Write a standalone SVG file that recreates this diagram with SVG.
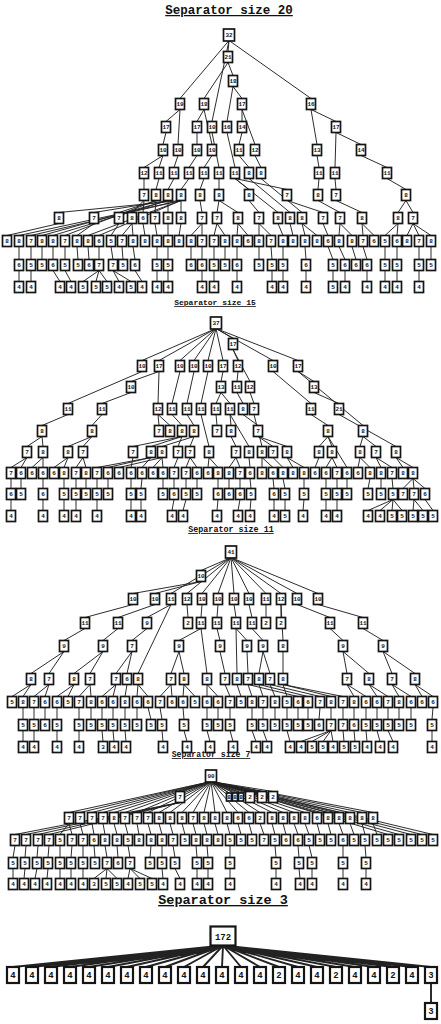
<svg xmlns="http://www.w3.org/2000/svg" width="441" height="1024" viewBox="0 0 441 1024">
<style>
.n rect{fill:#fff;stroke:#151515;stroke-width:1.7}
.n text{font-family:"Liberation Mono","DejaVu Sans Mono",monospace;font-size:6px;font-weight:bold;text-anchor:middle;fill:#151515}
.big rect{stroke-width:2.2}
.big text{font-size:9px;font-weight:bold}
.e path{fill:none;stroke:#222;stroke-width:0.95}
.e path.fat{stroke-width:1.9}
.ttl{font-family:"Liberation Mono","DejaVu Sans Mono",monospace;text-anchor:middle;fill:#111;text-decoration:underline;font-weight:bold}
</style>
<rect width="441" height="1024" fill="#fff"/>
<text class="ttl" x="229" y="14" font-size="12.5">Separator size 20</text>
<text class="ttl" x="215" y="305" font-size="8">Separator size 15</text>
<text class="ttl" x="231" y="532" font-size="8.4">Separator size 11</text>
<text class="ttl" x="211" y="757" font-size="8.2">Separator size 7</text>
<text class="ttl" x="223" y="904" font-size="13.5">Separator size 3</text>
<g id="connectors" class="e">
<path id="edges-20" d="M229 40.5L228 51.5M228 62.5L233 75.5M229 40.5L180 98.5M228 62.5L204 98.5M233 86.5L242 98.5M229 40.5L311 98.5M180 109.5L166 121.5M204 109.5L197 121.5M229 40.5L212 121.5M233 86.5L227 121.5M242 109.5L242 121.5M311 109.5L336 121.5M166 132.5L163 144.5M180 109.5L178 144.5M197 132.5L197 144.5M204 109.5L212 144.5M242 132.5L239 144.5M242 109.5L255 144.5M311 109.5L317 144.5M336 132.5L361 144.5M163 155.5L144 167.5M163 155.5L159 167.5M178 155.5L174 167.5M197 155.5L189 167.5M212 155.5L204 167.5M212 132.5L219 167.5M227 132.5L235 167.5M239 155.5L249 167.5M255 155.5L261 167.5M317 155.5L319 167.5M336 132.5L335 167.5M361 155.5L387 167.5M144 178.5L144 189.5M159 178.5L156 189.5M174 178.5L168 189.5M189 178.5L181 189.5M204 178.5L200 189.5M219 178.5L219 189.5M235 178.5L249 189.5M235 178.5L287 189.5M319 178.5L318 189.5M335 178.5L336 189.5M387 178.5L406 189.5M181 200.5L59 212.5M168 200.5L94 212.5M156 200.5L119 212.5M144 200.5L132 212.5M144 200.5L143 212.5M156 200.5L155 212.5M168 200.5L168 212.5M181 200.5L181 212.5M200 200.5L202 212.5M219 200.5L217 212.5M219 200.5L238 212.5M249 200.5L259 212.5M235 178.5L278 212.5M249 178.5L290 212.5M261 178.5L302 212.5M287 200.5L323 212.5M318 200.5L340 212.5M336 200.5L362 212.5M406 200.5L398 212.5M406 200.5L413 212.5M59 223.5L7 235.5M181 200.5L19 235.5M181 200.5L31 235.5M168 200.5L42 235.5M168 200.5L53 235.5M156 200.5L65 235.5M94 223.5L77 235.5M181 200.5L88 235.5M181 200.5L99 235.5M119 223.5L111 235.5M132 223.5L122 235.5M132 223.5L133 235.5M143 223.5L145 235.5M155 223.5L157 235.5M168 223.5L168 235.5M181 223.5L179 235.5M202 223.5L191 235.5M202 223.5L202 235.5M217 223.5L214 235.5M217 223.5L225 235.5M238 223.5L237 235.5M238 223.5L248 235.5M259 223.5L259 235.5M259 223.5L271 235.5M278 223.5L283 235.5M290 223.5L293 235.5M302 223.5L305 235.5M302 223.5L317 235.5M323 223.5L328 235.5M340 223.5L339 235.5M340 223.5L352 235.5M362 223.5L363 235.5M362 223.5L374 235.5M398 223.5L385 235.5M398 223.5L397 235.5M413 223.5L407 235.5M413 223.5L419 235.5M413 223.5L431 235.5M19 246.5V259.5M31 246.5V259.5M42 246.5V259.5M53 246.5V259.5M65 246.5V259.5M77 246.5L78 259.5M88 246.5L89 259.5M99 246.5V259.5M111 246.5L113 259.5M122 246.5L123 259.5M133 246.5L135 259.5M157 246.5V259.5M168 246.5V259.5M191 246.5V259.5M202 246.5V259.5M214 246.5V259.5M225 246.5V259.5M237 246.5V259.5M259 246.5V259.5M271 246.5L272 259.5M283 246.5V259.5M305 246.5L306 259.5M328 246.5L333 259.5M339 246.5L345 259.5M352 246.5L356 259.5M363 246.5L367 259.5M385 246.5V259.5M397 246.5V259.5M419 246.5V259.5M431 246.5V259.5M19 270.5V281.5M31 270.5V281.5M53 270.5L60 281.5M65 270.5L71 281.5M99 270.5L83 281.5M99 270.5L96 281.5M99 270.5L107 281.5M113 270.5L119 281.5M113 270.5L131 281.5M135 270.5L142 281.5M157 270.5V281.5M168 270.5V281.5M202 270.5V281.5M214 270.5V281.5M237 270.5V281.5M272 270.5V281.5M283 270.5V281.5M306 270.5V281.5M333 270.5V281.5M345 270.5V281.5M367 270.5V281.5M385 270.5V281.5M397 270.5V281.5M419 270.5V281.5"/>
<path id="edges-15" d="M216 328.5L233 338.5M216 328.5L142 360.5M216 328.5L159 360.5M216 328.5L180 360.5M216 328.5L194 360.5M216 328.5L208 360.5M216 328.5L223 360.5M216 328.5L273 360.5M216 328.5L298 360.5M233 349.5L238 360.5M159 371.5L131 381.5M223 371.5L221 381.5M238 371.5L237 381.5M233 349.5L250 381.5M298 371.5L314 381.5M142 371.5L68 403.5M131 392.5L102 403.5M159 371.5L158 403.5M180 371.5L172 403.5M194 371.5L187 403.5M208 371.5L201 403.5M221 392.5L216 403.5M221 392.5L230 403.5M237 392.5L243 403.5M250 392.5L254 403.5M273 371.5L311 403.5M314 392.5L339 403.5M68 414.5L42 425.5M102 414.5L92 425.5M158 414.5L159 425.5M158 414.5L170 425.5M172 414.5L182 425.5M187 414.5L194 425.5M216 414.5L217 425.5M230 414.5L231 425.5M243 414.5L258 425.5M311 414.5L328 425.5M298 371.5L363 425.5M42 436.5L27 446.5M42 436.5L43 446.5M92 436.5L68 446.5M92 436.5L83 446.5M182 436.5L133 446.5M182 436.5L151 446.5M194 436.5L162 446.5M182 436.5L178 446.5M194 436.5L190 446.5M201 414.5L209 446.5M231 436.5L236 446.5M230 414.5L249 446.5M254 414.5L262 446.5M258 436.5L273 446.5M258 436.5L287 446.5M328 436.5L319 446.5M328 436.5L332 446.5M363 436.5L360 446.5M363 436.5L376 446.5M339 414.5L396 446.5M27 457.5L11 467.5M27 457.5L21 467.5M43 457.5L32 467.5M43 457.5V467.5M68 457.5L54 467.5M68 457.5L64 467.5M83 457.5L76 467.5M83 457.5L86 467.5M151 457.5L97 467.5M151 457.5L108 467.5M162 457.5L119 467.5M133 457.5L131 467.5M151 457.5L142 467.5M162 457.5L153 467.5M162 457.5L163 467.5M178 457.5L174 467.5M190 457.5L186 467.5M190 457.5L197 467.5M209 457.5L208 467.5M209 457.5L218 467.5M236 457.5L229 467.5M236 457.5L240 467.5M249 457.5L250 467.5M262 457.5V467.5M262 457.5L273 467.5M273 457.5L283 467.5M287 457.5L293 467.5M287 457.5L304 467.5M319 457.5L315 467.5M332 457.5L326 467.5M332 457.5L337 467.5M328 436.5L347 467.5M360 457.5L358 467.5M360 457.5L370 467.5M376 457.5L381 467.5M376 457.5L392 467.5M396 457.5L403 467.5M396 457.5L413 467.5M11 478.5V488.5M21 478.5V488.5M43 478.5V488.5M64 478.5V488.5M76 478.5V488.5M86 478.5V488.5M97 478.5V488.5M108 478.5V488.5M131 478.5V488.5M142 478.5L141 488.5M163 478.5V488.5M174 478.5V488.5M186 478.5V488.5M197 478.5V488.5M218 478.5V488.5M229 478.5V488.5M240 478.5V488.5M250 478.5L251 488.5M273 478.5L274 488.5M283 478.5L285 488.5M304 478.5V488.5M326 478.5V488.5M337 478.5V488.5M347 478.5V488.5M370 478.5L368 488.5M381 478.5V488.5M392 478.5L393 488.5M413 478.5L403 488.5M413 478.5L414 488.5M413 478.5L425 488.5M11 499.5V510.5M43 499.5V510.5M64 499.5V510.5M76 499.5V510.5M97 499.5V510.5M131 499.5V510.5M141 499.5V510.5M174 499.5L172 510.5M186 499.5L183 510.5M218 499.5L217 510.5M240 499.5L238 510.5M251 499.5L250 510.5M274 499.5V510.5M285 499.5V510.5M304 499.5L303 510.5M326 499.5V510.5M337 499.5V510.5M393 499.5L368 510.5M393 499.5L380 510.5M393 499.5L392 510.5M393 499.5L402 510.5M414 499.5L413 510.5M414 499.5L423 510.5M425 499.5L433 510.5"/>
<path id="edges-11" d="M231 557.5L201 570.5M201 581.5L133 593.5M201 581.5L155 593.5M231 557.5L171 593.5M231 557.5L187 593.5M231 557.5L202 593.5M231 557.5L218 593.5M231 557.5L234 593.5M231 557.5L249 593.5M231 557.5L266 593.5M231 557.5L281 593.5M231 557.5L297 593.5M231 557.5L318 593.5M133 604.5L85 617.5M155 604.5L118 617.5M171 604.5L147 617.5M187 604.5L188 617.5M202 604.5L201 617.5M218 604.5L217 617.5M234 604.5L236 617.5M249 604.5L252 617.5M266 604.5V617.5M281 604.5V617.5M297 604.5L330 617.5M318 604.5L363 617.5M85 628.5L64 640.5M118 628.5L103 640.5M147 628.5L132 640.5M201 628.5L179 640.5M217 628.5L220 640.5M236 628.5L247 640.5M252 628.5L263 640.5M281 604.5L283 640.5M330 628.5L343 640.5M363 628.5L383 640.5M64 651.5L31 673.5M64 651.5L49 673.5M103 651.5L74 673.5M103 651.5L90 673.5M132 651.5L116 673.5M132 651.5L127 673.5M171 604.5L138 673.5M179 651.5L171 673.5M179 651.5L184 673.5M201 628.5L207 673.5M220 651.5L225 673.5M236 628.5L237 673.5M247 651.5L248 673.5M263 651.5L259 673.5M263 651.5L270 673.5M283 651.5V673.5M343 651.5L347 673.5M343 651.5L369 673.5M383 651.5L392 673.5M383 651.5L415 673.5M31 684.5L12 696.5M31 684.5L23 696.5M49 684.5L34 696.5M49 684.5L45 696.5M74 684.5L57 696.5M74 684.5L68 696.5M90 684.5L79 696.5M90 684.5L91 696.5M116 684.5L102 696.5M116 684.5L113 696.5M127 684.5L125 696.5M138 684.5L137 696.5M138 684.5L148 696.5M171 684.5L160 696.5M171 684.5L172 696.5M184 684.5L183 696.5M184 684.5L195 696.5M207 684.5V696.5M207 684.5L218 696.5M225 684.5L230 696.5M237 684.5L241 696.5M248 684.5L252 696.5M259 684.5L263 696.5M270 684.5L275 696.5M283 684.5L287 696.5M248 684.5L298 696.5M259 684.5L308 696.5M270 684.5L320 696.5M283 684.5L331 696.5M283 684.5L343 696.5M347 684.5L354 696.5M347 684.5L366 696.5M369 684.5L377 696.5M369 684.5L388 696.5M392 684.5L399 696.5M392 684.5L411 696.5M415 684.5L422 696.5M415 684.5L433 696.5M23 707.5V719.5M34 707.5V719.5M45 707.5V719.5M57 707.5V719.5M79 707.5V719.5M91 707.5V719.5M102 707.5V719.5M113 707.5V719.5M125 707.5V719.5M137 707.5V719.5M148 707.5L151 719.5M160 707.5L162 719.5M183 707.5L184 719.5M207 707.5V719.5M218 707.5V719.5M230 707.5V719.5M252 707.5V719.5M263 707.5V719.5M275 707.5V719.5M287 707.5V719.5M298 707.5V719.5M308 707.5V719.5M320 707.5L319 719.5M331 707.5V719.5M343 707.5V719.5M354 707.5V719.5M366 707.5V719.5M377 707.5V719.5M388 707.5V719.5M399 707.5V719.5M411 707.5V719.5M433 707.5L432 719.5M23 730.5V741.5M34 730.5V741.5M57 730.5V741.5M79 730.5V741.5M102 730.5L103 741.5M113 730.5L114 741.5M125 730.5L126 741.5M162 730.5L163 741.5M184 730.5L187 741.5M207 730.5L210 741.5M230 730.5L233 741.5M252 730.5L256 741.5M263 730.5L267 741.5M287 730.5L290 741.5M331 730.5L301 741.5M331 730.5L312 741.5M331 730.5L323 741.5M331 730.5L333 741.5M343 730.5L344 741.5M354 730.5L355 741.5M366 730.5L367 741.5M377 730.5L380 741.5M388 730.5L393 741.5M432 730.5V741.5"/>
<path id="edges-7" d="M211 781.5L180 791.5M211 781.5L229 793M211 781.5L235 793M211 781.5L241 793M211 781.5L250 791.5M211 781.5L262 791.5M211 781.5L273 791.5M211 781.5L69 812.5M211 781.5L80 812.5M211 781.5L92 812.5M211 781.5L103 812.5M211 781.5L114 812.5M211 781.5L125 812.5M211 781.5L137 812.5M211 781.5L148 812.5M211 781.5L159 812.5M211 781.5L170 812.5M211 781.5L182 812.5M211 781.5L193 812.5M211 781.5L204 812.5M211 781.5L215 812.5M211 781.5L227 812.5M211 781.5L238 812.5M211 781.5L249 812.5M211 781.5L260 812.5M211 781.5L272 812.5M211 781.5L283 812.5M211 781.5L294 812.5M211 781.5L305 812.5M211 781.5L317 812.5M211 781.5L328 812.5M211 781.5L339 812.5M211 781.5L350 812.5M211 781.5L362 812.5M211 781.5L373 812.5M180 802.5L15 834.5M180 802.5L26 834.5M180 802.5L38 834.5M180 802.5L49 834.5M69 823.5L60 834.5M69 823.5L72 834.5M80 823.5L83 834.5M92 823.5L94 834.5M103 823.5L105 834.5M114 823.5L117 834.5M125 823.5L128 834.5M137 823.5L139 834.5M148 823.5L151 834.5M159 823.5L162 834.5M170 823.5L173 834.5M182 823.5L185 834.5M193 823.5L196 834.5M204 823.5L207 834.5M215 823.5L218 834.5M227 823.5L230 834.5M238 823.5L241 834.5M249 823.5L252 834.5M260 823.5L264 834.5M272 823.5L275 834.5M283 823.5L286 834.5M294 823.5L298 834.5M305 823.5L309 834.5M317 823.5L320 834.5M328 823.5L331 834.5M339 823.5L343 834.5M350 823.5L354 834.5M362 823.5L365 834.5M373 823.5L377 834.5M211 781.5L388 834.5M211 781.5L399 834.5M211 781.5L411 834.5M211 781.5L422 834.5M211 781.5L433 834.5M15 845.5L13 857.5M26 845.5L25 857.5M38 845.5L37 857.5M49 845.5L48 857.5M60 845.5V857.5M72 845.5L71 857.5M83 845.5V857.5M94 845.5L95 857.5M105 845.5L107 857.5M117 845.5L118 857.5M128 845.5L130 857.5M151 845.5L150 857.5M162 845.5V857.5M173 845.5L175 857.5M196 845.5L197 857.5M207 845.5L208 857.5M230 845.5V857.5M275 845.5L276 857.5M298 845.5L299 857.5M309 845.5L312 857.5M343 845.5V857.5M365 845.5L366 857.5M13 868.5V878.5M25 868.5L24 878.5M37 868.5L35 878.5M48 868.5L47 878.5M60 868.5V878.5M71 868.5V878.5M83 868.5V878.5M107 868.5L94 878.5M107 868.5L106 878.5M107 868.5L117 878.5M130 868.5L128 878.5M130 868.5L140 878.5M130 868.5L152 878.5M162 868.5L163 878.5M175 868.5L180 878.5M197 868.5V878.5M208 868.5V878.5M230 868.5V878.5M276 868.5V878.5M299 868.5L300 878.5M312 868.5V878.5M343 868.5V878.5M366 868.5V878.5"/>
<path id="edges-3" class="fat" d="M223 945.5L13 967M223 945.5L32 967M223 945.5L51 967M223 945.5L70 967M223 945.5L89 967M223 945.5L108 967M223 945.5L127 967M223 945.5L146 967M223 945.5L165 967M223 945.5L184 967M223 945.5L203 967M223 945.5L222 967M223 945.5L241 967M223 945.5L260 967M223 945.5L279 967M223 945.5L298 967M223 945.5L317 967M223 945.5L336 967M223 945.5L355 967M223 945.5L374 967M223 945.5L393 967M223 945.5L412 967M223 945.5L431 967M431 983V1003"/>
</g>
<g id="tree-20" class="n">
<g id="a1" transform="translate(229 35)"><rect x="-5.5" y="-6" width="11" height="12"/><text y="2.1">32</text></g>
<g id="a2" transform="translate(228 57)"><rect x="-4.5" y="-5.5" width="9" height="11"/><text y="2.1">21</text></g>
<g id="a3" transform="translate(233 81)"><rect x="-4.5" y="-5.5" width="9" height="11"/><text y="2.1">18</text></g>
<g id="a4" transform="translate(180 104)"><rect x="-4.5" y="-5.5" width="9" height="11"/><text y="2.1">19</text></g>
<g id="a5" transform="translate(204 104)"><rect x="-4.5" y="-5.5" width="9" height="11"/><text y="2.1">18</text></g>
<g id="a6" transform="translate(242 104)"><rect x="-4.5" y="-5.5" width="9" height="11"/><text y="2.1">17</text></g>
<g id="a7" transform="translate(311 104)"><rect x="-4.5" y="-5.5" width="9" height="11"/><text y="2.1">16</text></g>
<g id="a8" transform="translate(166 127)"><rect x="-4.5" y="-5.5" width="9" height="11"/><text y="2.1">17</text></g>
<g id="a9" transform="translate(197 127)"><rect x="-4.5" y="-5.5" width="9" height="11"/><text y="2.1">17</text></g>
<g id="a10" transform="translate(212 127)"><rect x="-4.5" y="-5.5" width="9" height="11"/><text y="2.1">10</text></g>
<g id="a11" transform="translate(227 127)"><rect x="-4.5" y="-5.5" width="9" height="11"/><text y="2.1">16</text></g>
<g id="a12" transform="translate(242 127)"><rect x="-4.5" y="-5.5" width="9" height="11"/><text y="2.1">14</text></g>
<g id="a13" transform="translate(336 127)"><rect x="-4.5" y="-5.5" width="9" height="11"/><text y="2.1">17</text></g>
<g id="a14" transform="translate(163 150)"><rect x="-4.5" y="-5.5" width="9" height="11"/><text y="2.1">10</text></g>
<g id="a15" transform="translate(178 150)"><rect x="-4.5" y="-5.5" width="9" height="11"/><text y="2.1">10</text></g>
<g id="a16" transform="translate(197 150)"><rect x="-4.5" y="-5.5" width="9" height="11"/><text y="2.1">10</text></g>
<g id="a17" transform="translate(212 150)"><rect x="-4.5" y="-5.5" width="9" height="11"/><text y="2.1">10</text></g>
<g id="a18" transform="translate(239 150)"><rect x="-4.5" y="-5.5" width="9" height="11"/><text y="2.1">11</text></g>
<g id="a19" transform="translate(255 150)"><rect x="-4.5" y="-5.5" width="9" height="11"/><text y="2.1">12</text></g>
<g id="a20" transform="translate(317 150)"><rect x="-4.5" y="-5.5" width="9" height="11"/><text y="2.1">13</text></g>
<g id="a21" transform="translate(361 150)"><rect x="-4.5" y="-5.5" width="9" height="11"/><text y="2.1">14</text></g>
<g id="a22" transform="translate(144 173)"><rect x="-4.5" y="-5.5" width="9" height="11"/><text y="2.1">12</text></g>
<g id="a23" transform="translate(159 173)"><rect x="-4.5" y="-5.5" width="9" height="11"/><text y="2.1">11</text></g>
<g id="a24" transform="translate(174 173)"><rect x="-4.5" y="-5.5" width="9" height="11"/><text y="2.1">11</text></g>
<g id="a25" transform="translate(189 173)"><rect x="-4.5" y="-5.5" width="9" height="11"/><text y="2.1">11</text></g>
<g id="a26" transform="translate(204 173)"><rect x="-4.5" y="-5.5" width="9" height="11"/><text y="2.1">11</text></g>
<g id="a27" transform="translate(219 173)"><rect x="-4.5" y="-5.5" width="9" height="11"/><text y="2.1">11</text></g>
<g id="a28" transform="translate(235 173)"><rect x="-4.5" y="-5.5" width="9" height="11"/><text y="2.1">11</text></g>
<g id="a29" transform="translate(249 173)"><rect x="-4.5" y="-5.5" width="9" height="11"/><text y="2.1">8</text></g>
<g id="a30" transform="translate(261 173)"><rect x="-4.5" y="-5.5" width="9" height="11"/><text y="2.1">8</text></g>
<g id="a31" transform="translate(319 173)"><rect x="-4.5" y="-5.5" width="9" height="11"/><text y="2.1">11</text></g>
<g id="a32" transform="translate(335 173)"><rect x="-4.5" y="-5.5" width="9" height="11"/><text y="2.1">11</text></g>
<g id="a33" transform="translate(387 173)"><rect x="-4.5" y="-5.5" width="9" height="11"/><text y="2.1">11</text></g>
<g id="a34" transform="translate(144 195)"><rect x="-4.5" y="-5.5" width="9" height="11"/><text y="2.1">7</text></g>
<g id="a35" transform="translate(156 195)"><rect x="-4.5" y="-5.5" width="9" height="11"/><text y="2.1">8</text></g>
<g id="a36" transform="translate(168 195)"><rect x="-4.5" y="-5.5" width="9" height="11"/><text y="2.1">8</text></g>
<g id="a37" transform="translate(181 195)"><rect x="-4.5" y="-5.5" width="9" height="11"/><text y="2.1">8</text></g>
<g id="a38" transform="translate(200 195)"><rect x="-4.5" y="-5.5" width="9" height="11"/><text y="2.1">8</text></g>
<g id="a39" transform="translate(219 195)"><rect x="-4.5" y="-5.5" width="9" height="11"/><text y="2.1">8</text></g>
<g id="a40" transform="translate(249 195)"><rect x="-4.5" y="-5.5" width="9" height="11"/><text y="2.1">8</text></g>
<g id="a41" transform="translate(287 195)"><rect x="-4.5" y="-5.5" width="9" height="11"/><text y="2.1">7</text></g>
<g id="a42" transform="translate(318 195)"><rect x="-4.5" y="-5.5" width="9" height="11"/><text y="2.1">8</text></g>
<g id="a43" transform="translate(336 195)"><rect x="-4.5" y="-5.5" width="9" height="11"/><text y="2.1">7</text></g>
<g id="a44" transform="translate(406 195)"><rect x="-4.5" y="-5.5" width="9" height="11"/><text y="2.1">8</text></g>
<g id="a45" transform="translate(59 218)"><rect x="-4.5" y="-5.5" width="9" height="11"/><text y="2.1">8</text></g>
<g id="a46" transform="translate(94 218)"><rect x="-4.5" y="-5.5" width="9" height="11"/><text y="2.1">7</text></g>
<g id="a47" transform="translate(119 218)"><rect x="-4.5" y="-5.5" width="9" height="11"/><text y="2.1">7</text></g>
<g id="a48" transform="translate(132 218)"><rect x="-4.5" y="-5.5" width="9" height="11"/><text y="2.1">8</text></g>
<g id="a49" transform="translate(143 218)"><rect x="-4.5" y="-5.5" width="9" height="11"/><text y="2.1">6</text></g>
<g id="a50" transform="translate(155 218)"><rect x="-4.5" y="-5.5" width="9" height="11"/><text y="2.1">7</text></g>
<g id="a51" transform="translate(168 218)"><rect x="-4.5" y="-5.5" width="9" height="11"/><text y="2.1">8</text></g>
<g id="a52" transform="translate(181 218)"><rect x="-4.5" y="-5.5" width="9" height="11"/><text y="2.1">8</text></g>
<g id="a53" transform="translate(202 218)"><rect x="-4.5" y="-5.5" width="9" height="11"/><text y="2.1">7</text></g>
<g id="a54" transform="translate(217 218)"><rect x="-4.5" y="-5.5" width="9" height="11"/><text y="2.1">7</text></g>
<g id="a55" transform="translate(238 218)"><rect x="-4.5" y="-5.5" width="9" height="11"/><text y="2.1">8</text></g>
<g id="a56" transform="translate(259 218)"><rect x="-4.5" y="-5.5" width="9" height="11"/><text y="2.1">7</text></g>
<g id="a57" transform="translate(278 218)"><rect x="-4.5" y="-5.5" width="9" height="11"/><text y="2.1">8</text></g>
<g id="a58" transform="translate(290 218)"><rect x="-4.5" y="-5.5" width="9" height="11"/><text y="2.1">8</text></g>
<g id="a59" transform="translate(302 218)"><rect x="-4.5" y="-5.5" width="9" height="11"/><text y="2.1">8</text></g>
<g id="a60" transform="translate(323 218)"><rect x="-4.5" y="-5.5" width="9" height="11"/><text y="2.1">7</text></g>
<g id="a61" transform="translate(340 218)"><rect x="-4.5" y="-5.5" width="9" height="11"/><text y="2.1">7</text></g>
<g id="a62" transform="translate(362 218)"><rect x="-4.5" y="-5.5" width="9" height="11"/><text y="2.1">8</text></g>
<g id="a63" transform="translate(398 218)"><rect x="-4.5" y="-5.5" width="9" height="11"/><text y="2.1">8</text></g>
<g id="a64" transform="translate(413 218)"><rect x="-4.5" y="-5.5" width="9" height="11"/><text y="2.1">7</text></g>
<g id="a65" transform="translate(7 241)"><rect x="-4.5" y="-5.5" width="9" height="11"/><text y="2.1">8</text></g>
<g id="a66" transform="translate(19 241)"><rect x="-4.5" y="-5.5" width="9" height="11"/><text y="2.1">8</text></g>
<g id="a67" transform="translate(31 241)"><rect x="-4.5" y="-5.5" width="9" height="11"/><text y="2.1">7</text></g>
<g id="a68" transform="translate(42 241)"><rect x="-4.5" y="-5.5" width="9" height="11"/><text y="2.1">8</text></g>
<g id="a69" transform="translate(53 241)"><rect x="-4.5" y="-5.5" width="9" height="11"/><text y="2.1">8</text></g>
<g id="a70" transform="translate(65 241)"><rect x="-4.5" y="-5.5" width="9" height="11"/><text y="2.1">7</text></g>
<g id="a71" transform="translate(77 241)"><rect x="-4.5" y="-5.5" width="9" height="11"/><text y="2.1">8</text></g>
<g id="a72" transform="translate(88 241)"><rect x="-4.5" y="-5.5" width="9" height="11"/><text y="2.1">8</text></g>
<g id="a73" transform="translate(99 241)"><rect x="-4.5" y="-5.5" width="9" height="11"/><text y="2.1">6</text></g>
<g id="a74" transform="translate(111 241)"><rect x="-4.5" y="-5.5" width="9" height="11"/><text y="2.1">5</text></g>
<g id="a75" transform="translate(122 241)"><rect x="-4.5" y="-5.5" width="9" height="11"/><text y="2.1">7</text></g>
<g id="a76" transform="translate(133 241)"><rect x="-4.5" y="-5.5" width="9" height="11"/><text y="2.1">8</text></g>
<g id="a77" transform="translate(145 241)"><rect x="-4.5" y="-5.5" width="9" height="11"/><text y="2.1">8</text></g>
<g id="a78" transform="translate(157 241)"><rect x="-4.5" y="-5.5" width="9" height="11"/><text y="2.1">8</text></g>
<g id="a79" transform="translate(168 241)"><rect x="-4.5" y="-5.5" width="9" height="11"/><text y="2.1">8</text></g>
<g id="a80" transform="translate(179 241)"><rect x="-4.5" y="-5.5" width="9" height="11"/><text y="2.1">8</text></g>
<g id="a81" transform="translate(191 241)"><rect x="-4.5" y="-5.5" width="9" height="11"/><text y="2.1">8</text></g>
<g id="a82" transform="translate(202 241)"><rect x="-4.5" y="-5.5" width="9" height="11"/><text y="2.1">7</text></g>
<g id="a83" transform="translate(214 241)"><rect x="-4.5" y="-5.5" width="9" height="11"/><text y="2.1">7</text></g>
<g id="a84" transform="translate(225 241)"><rect x="-4.5" y="-5.5" width="9" height="11"/><text y="2.1">8</text></g>
<g id="a85" transform="translate(237 241)"><rect x="-4.5" y="-5.5" width="9" height="11"/><text y="2.1">8</text></g>
<g id="a86" transform="translate(248 241)"><rect x="-4.5" y="-5.5" width="9" height="11"/><text y="2.1">6</text></g>
<g id="a87" transform="translate(259 241)"><rect x="-4.5" y="-5.5" width="9" height="11"/><text y="2.1">8</text></g>
<g id="a88" transform="translate(271 241)"><rect x="-4.5" y="-5.5" width="9" height="11"/><text y="2.1">7</text></g>
<g id="a89" transform="translate(283 241)"><rect x="-4.5" y="-5.5" width="9" height="11"/><text y="2.1">8</text></g>
<g id="a90" transform="translate(293 241)"><rect x="-4.5" y="-5.5" width="9" height="11"/><text y="2.1">8</text></g>
<g id="a91" transform="translate(305 241)"><rect x="-4.5" y="-5.5" width="9" height="11"/><text y="2.1">8</text></g>
<g id="a92" transform="translate(317 241)"><rect x="-4.5" y="-5.5" width="9" height="11"/><text y="2.1">8</text></g>
<g id="a93" transform="translate(328 241)"><rect x="-4.5" y="-5.5" width="9" height="11"/><text y="2.1">6</text></g>
<g id="a94" transform="translate(339 241)"><rect x="-4.5" y="-5.5" width="9" height="11"/><text y="2.1">8</text></g>
<g id="a95" transform="translate(352 241)"><rect x="-4.5" y="-5.5" width="9" height="11"/><text y="2.1">8</text></g>
<g id="a96" transform="translate(363 241)"><rect x="-4.5" y="-5.5" width="9" height="11"/><text y="2.1">7</text></g>
<g id="a97" transform="translate(374 241)"><rect x="-4.5" y="-5.5" width="9" height="11"/><text y="2.1">6</text></g>
<g id="a98" transform="translate(385 241)"><rect x="-4.5" y="-5.5" width="9" height="11"/><text y="2.1">5</text></g>
<g id="a99" transform="translate(397 241)"><rect x="-4.5" y="-5.5" width="9" height="11"/><text y="2.1">6</text></g>
<g id="a100" transform="translate(407 241)"><rect x="-4.5" y="-5.5" width="9" height="11"/><text y="2.1">8</text></g>
<g id="a101" transform="translate(419 241)"><rect x="-4.5" y="-5.5" width="9" height="11"/><text y="2.1">7</text></g>
<g id="a102" transform="translate(431 241)"><rect x="-4.5" y="-5.5" width="9" height="11"/><text y="2.1">8</text></g>
<g id="a103" transform="translate(19 265)"><rect x="-4.5" y="-5.5" width="9" height="11"/><text y="2.1">6</text></g>
<g id="a104" transform="translate(31 265)"><rect x="-4.5" y="-5.5" width="9" height="11"/><text y="2.1">5</text></g>
<g id="a105" transform="translate(42 265)"><rect x="-4.5" y="-5.5" width="9" height="11"/><text y="2.1">5</text></g>
<g id="a106" transform="translate(53 265)"><rect x="-4.5" y="-5.5" width="9" height="11"/><text y="2.1">6</text></g>
<g id="a107" transform="translate(65 265)"><rect x="-4.5" y="-5.5" width="9" height="11"/><text y="2.1">5</text></g>
<g id="a108" transform="translate(78 265)"><rect x="-4.5" y="-5.5" width="9" height="11"/><text y="2.1">5</text></g>
<g id="a109" transform="translate(89 265)"><rect x="-4.5" y="-5.5" width="9" height="11"/><text y="2.1">6</text></g>
<g id="a110" transform="translate(99 265)"><rect x="-4.5" y="-5.5" width="9" height="11"/><text y="2.1">7</text></g>
<g id="a111" transform="translate(113 265)"><rect x="-4.5" y="-5.5" width="9" height="11"/><text y="2.1">7</text></g>
<g id="a112" transform="translate(123 265)"><rect x="-4.5" y="-5.5" width="9" height="11"/><text y="2.1">5</text></g>
<g id="a113" transform="translate(135 265)"><rect x="-4.5" y="-5.5" width="9" height="11"/><text y="2.1">6</text></g>
<g id="a114" transform="translate(157 265)"><rect x="-4.5" y="-5.5" width="9" height="11"/><text y="2.1">5</text></g>
<g id="a115" transform="translate(168 265)"><rect x="-4.5" y="-5.5" width="9" height="11"/><text y="2.1">5</text></g>
<g id="a116" transform="translate(191 265)"><rect x="-4.5" y="-5.5" width="9" height="11"/><text y="2.1">6</text></g>
<g id="a117" transform="translate(202 265)"><rect x="-4.5" y="-5.5" width="9" height="11"/><text y="2.1">6</text></g>
<g id="a118" transform="translate(214 265)"><rect x="-4.5" y="-5.5" width="9" height="11"/><text y="2.1">5</text></g>
<g id="a119" transform="translate(225 265)"><rect x="-4.5" y="-5.5" width="9" height="11"/><text y="2.1">5</text></g>
<g id="a120" transform="translate(237 265)"><rect x="-4.5" y="-5.5" width="9" height="11"/><text y="2.1">6</text></g>
<g id="a121" transform="translate(259 265)"><rect x="-4.5" y="-5.5" width="9" height="11"/><text y="2.1">5</text></g>
<g id="a122" transform="translate(272 265)"><rect x="-4.5" y="-5.5" width="9" height="11"/><text y="2.1">5</text></g>
<g id="a123" transform="translate(283 265)"><rect x="-4.5" y="-5.5" width="9" height="11"/><text y="2.1">5</text></g>
<g id="a124" transform="translate(306 265)"><rect x="-4.5" y="-5.5" width="9" height="11"/><text y="2.1">6</text></g>
<g id="a125" transform="translate(333 265)"><rect x="-4.5" y="-5.5" width="9" height="11"/><text y="2.1">5</text></g>
<g id="a126" transform="translate(345 265)"><rect x="-4.5" y="-5.5" width="9" height="11"/><text y="2.1">6</text></g>
<g id="a127" transform="translate(356 265)"><rect x="-4.5" y="-5.5" width="9" height="11"/><text y="2.1">6</text></g>
<g id="a128" transform="translate(367 265)"><rect x="-4.5" y="-5.5" width="9" height="11"/><text y="2.1">6</text></g>
<g id="a129" transform="translate(385 265)"><rect x="-4.5" y="-5.5" width="9" height="11"/><text y="2.1">5</text></g>
<g id="a130" transform="translate(397 265)"><rect x="-4.5" y="-5.5" width="9" height="11"/><text y="2.1">5</text></g>
<g id="a131" transform="translate(419 265)"><rect x="-4.5" y="-5.5" width="9" height="11"/><text y="2.1">5</text></g>
<g id="a132" transform="translate(431 265)"><rect x="-4.5" y="-5.5" width="9" height="11"/><text y="2.1">5</text></g>
<g id="a133" transform="translate(19 287)"><rect x="-4.5" y="-5.5" width="9" height="11"/><text y="2.1">4</text></g>
<g id="a134" transform="translate(31 287)"><rect x="-4.5" y="-5.5" width="9" height="11"/><text y="2.1">4</text></g>
<g id="a135" transform="translate(60 287)"><rect x="-4.5" y="-5.5" width="9" height="11"/><text y="2.1">4</text></g>
<g id="a136" transform="translate(71 287)"><rect x="-4.5" y="-5.5" width="9" height="11"/><text y="2.1">4</text></g>
<g id="a137" transform="translate(83 287)"><rect x="-4.5" y="-5.5" width="9" height="11"/><text y="2.1">5</text></g>
<g id="a138" transform="translate(96 287)"><rect x="-4.5" y="-5.5" width="9" height="11"/><text y="2.1">5</text></g>
<g id="a139" transform="translate(107 287)"><rect x="-4.5" y="-5.5" width="9" height="11"/><text y="2.1">5</text></g>
<g id="a140" transform="translate(119 287)"><rect x="-4.5" y="-5.5" width="9" height="11"/><text y="2.1">4</text></g>
<g id="a141" transform="translate(131 287)"><rect x="-4.5" y="-5.5" width="9" height="11"/><text y="2.1">5</text></g>
<g id="a142" transform="translate(142 287)"><rect x="-4.5" y="-5.5" width="9" height="11"/><text y="2.1">4</text></g>
<g id="a143" transform="translate(157 287)"><rect x="-4.5" y="-5.5" width="9" height="11"/><text y="2.1">4</text></g>
<g id="a144" transform="translate(168 287)"><rect x="-4.5" y="-5.5" width="9" height="11"/><text y="2.1">4</text></g>
<g id="a145" transform="translate(202 287)"><rect x="-4.5" y="-5.5" width="9" height="11"/><text y="2.1">4</text></g>
<g id="a146" transform="translate(214 287)"><rect x="-4.5" y="-5.5" width="9" height="11"/><text y="2.1">4</text></g>
<g id="a147" transform="translate(237 287)"><rect x="-4.5" y="-5.5" width="9" height="11"/><text y="2.1">4</text></g>
<g id="a148" transform="translate(272 287)"><rect x="-4.5" y="-5.5" width="9" height="11"/><text y="2.1">4</text></g>
<g id="a149" transform="translate(283 287)"><rect x="-4.5" y="-5.5" width="9" height="11"/><text y="2.1">4</text></g>
<g id="a150" transform="translate(306 287)"><rect x="-4.5" y="-5.5" width="9" height="11"/><text y="2.1">4</text></g>
<g id="a151" transform="translate(333 287)"><rect x="-4.5" y="-5.5" width="9" height="11"/><text y="2.1">5</text></g>
<g id="a152" transform="translate(345 287)"><rect x="-4.5" y="-5.5" width="9" height="11"/><text y="2.1">4</text></g>
<g id="a153" transform="translate(367 287)"><rect x="-4.5" y="-5.5" width="9" height="11"/><text y="2.1">4</text></g>
<g id="a154" transform="translate(385 287)"><rect x="-4.5" y="-5.5" width="9" height="11"/><text y="2.1">4</text></g>
<g id="a155" transform="translate(397 287)"><rect x="-4.5" y="-5.5" width="9" height="11"/><text y="2.1">4</text></g>
<g id="a156" transform="translate(419 287)"><rect x="-4.5" y="-5.5" width="9" height="11"/><text y="2.1">4</text></g>
</g>
<g id="tree-15" class="n">
<g id="b1" transform="translate(216 323)"><rect x="-5.5" y="-6" width="11" height="12"/><text y="2.1">37</text></g>
<g id="b2" transform="translate(233 344)"><rect x="-4.5" y="-5.5" width="9" height="11"/><text y="2.1">17</text></g>
<g id="b3" transform="translate(142 366)"><rect x="-4.5" y="-5.5" width="9" height="11"/><text y="2.1">10</text></g>
<g id="b4" transform="translate(159 366)"><rect x="-4.5" y="-5.5" width="9" height="11"/><text y="2.1">17</text></g>
<g id="b5" transform="translate(180 366)"><rect x="-4.5" y="-5.5" width="9" height="11"/><text y="2.1">10</text></g>
<g id="b6" transform="translate(194 366)"><rect x="-4.5" y="-5.5" width="9" height="11"/><text y="2.1">10</text></g>
<g id="b7" transform="translate(208 366)"><rect x="-4.5" y="-5.5" width="9" height="11"/><text y="2.1">10</text></g>
<g id="b8" transform="translate(223 366)"><rect x="-4.5" y="-5.5" width="9" height="11"/><text y="2.1">17</text></g>
<g id="b9" transform="translate(238 366)"><rect x="-4.5" y="-5.5" width="9" height="11"/><text y="2.1">12</text></g>
<g id="b10" transform="translate(273 366)"><rect x="-4.5" y="-5.5" width="9" height="11"/><text y="2.1">10</text></g>
<g id="b11" transform="translate(298 366)"><rect x="-4.5" y="-5.5" width="9" height="11"/><text y="2.1">17</text></g>
<g id="b12" transform="translate(131 387)"><rect x="-4.5" y="-5.5" width="9" height="11"/><text y="2.1">10</text></g>
<g id="b13" transform="translate(221 387)"><rect x="-4.5" y="-5.5" width="9" height="11"/><text y="2.1">13</text></g>
<g id="b14" transform="translate(237 387)"><rect x="-4.5" y="-5.5" width="9" height="11"/><text y="2.1">11</text></g>
<g id="b15" transform="translate(250 387)"><rect x="-4.5" y="-5.5" width="9" height="11"/><text y="2.1">12</text></g>
<g id="b16" transform="translate(314 387)"><rect x="-4.5" y="-5.5" width="9" height="11"/><text y="2.1">13</text></g>
<g id="b17" transform="translate(68 409)"><rect x="-4.5" y="-5.5" width="9" height="11"/><text y="2.1">11</text></g>
<g id="b18" transform="translate(102 409)"><rect x="-4.5" y="-5.5" width="9" height="11"/><text y="2.1">11</text></g>
<g id="b19" transform="translate(158 409)"><rect x="-4.5" y="-5.5" width="9" height="11"/><text y="2.1">12</text></g>
<g id="b20" transform="translate(172 409)"><rect x="-4.5" y="-5.5" width="9" height="11"/><text y="2.1">11</text></g>
<g id="b21" transform="translate(187 409)"><rect x="-4.5" y="-5.5" width="9" height="11"/><text y="2.1">11</text></g>
<g id="b22" transform="translate(201 409)"><rect x="-4.5" y="-5.5" width="9" height="11"/><text y="2.1">11</text></g>
<g id="b23" transform="translate(216 409)"><rect x="-4.5" y="-5.5" width="9" height="11"/><text y="2.1">11</text></g>
<g id="b24" transform="translate(230 409)"><rect x="-4.5" y="-5.5" width="9" height="11"/><text y="2.1">11</text></g>
<g id="b25" transform="translate(243 409)"><rect x="-4.5" y="-5.5" width="9" height="11"/><text y="2.1">8</text></g>
<g id="b26" transform="translate(254 409)"><rect x="-4.5" y="-5.5" width="9" height="11"/><text y="2.1">7</text></g>
<g id="b27" transform="translate(311 409)"><rect x="-4.5" y="-5.5" width="9" height="11"/><text y="2.1">11</text></g>
<g id="b28" transform="translate(339 409)"><rect x="-4.5" y="-5.5" width="9" height="11"/><text y="2.1">21</text></g>
<g id="b29" transform="translate(42 431)"><rect x="-4.5" y="-5.5" width="9" height="11"/><text y="2.1">8</text></g>
<g id="b30" transform="translate(92 431)"><rect x="-4.5" y="-5.5" width="9" height="11"/><text y="2.1">8</text></g>
<g id="b31" transform="translate(159 431)"><rect x="-4.5" y="-5.5" width="9" height="11"/><text y="2.1">7</text></g>
<g id="b32" transform="translate(170 431)"><rect x="-4.5" y="-5.5" width="9" height="11"/><text y="2.1">8</text></g>
<g id="b33" transform="translate(182 431)"><rect x="-4.5" y="-5.5" width="9" height="11"/><text y="2.1">8</text></g>
<g id="b34" transform="translate(194 431)"><rect x="-4.5" y="-5.5" width="9" height="11"/><text y="2.1">8</text></g>
<g id="b35" transform="translate(217 431)"><rect x="-4.5" y="-5.5" width="9" height="11"/><text y="2.1">7</text></g>
<g id="b36" transform="translate(231 431)"><rect x="-4.5" y="-5.5" width="9" height="11"/><text y="2.1">8</text></g>
<g id="b37" transform="translate(258 431)"><rect x="-4.5" y="-5.5" width="9" height="11"/><text y="2.1">7</text></g>
<g id="b38" transform="translate(328 431)"><rect x="-4.5" y="-5.5" width="9" height="11"/><text y="2.1">8</text></g>
<g id="b39" transform="translate(363 431)"><rect x="-4.5" y="-5.5" width="9" height="11"/><text y="2.1">8</text></g>
<g id="b40" transform="translate(27 452)"><rect x="-4.5" y="-5.5" width="9" height="11"/><text y="2.1">7</text></g>
<g id="b41" transform="translate(43 452)"><rect x="-4.5" y="-5.5" width="9" height="11"/><text y="2.1">8</text></g>
<g id="b42" transform="translate(68 452)"><rect x="-4.5" y="-5.5" width="9" height="11"/><text y="2.1">8</text></g>
<g id="b43" transform="translate(83 452)"><rect x="-4.5" y="-5.5" width="9" height="11"/><text y="2.1">7</text></g>
<g id="b44" transform="translate(133 452)"><rect x="-4.5" y="-5.5" width="9" height="11"/><text y="2.1">7</text></g>
<g id="b45" transform="translate(151 452)"><rect x="-4.5" y="-5.5" width="9" height="11"/><text y="2.1">8</text></g>
<g id="b46" transform="translate(162 452)"><rect x="-4.5" y="-5.5" width="9" height="11"/><text y="2.1">8</text></g>
<g id="b47" transform="translate(178 452)"><rect x="-4.5" y="-5.5" width="9" height="11"/><text y="2.1">7</text></g>
<g id="b48" transform="translate(190 452)"><rect x="-4.5" y="-5.5" width="9" height="11"/><text y="2.1">7</text></g>
<g id="b49" transform="translate(209 452)"><rect x="-4.5" y="-5.5" width="9" height="11"/><text y="2.1">8</text></g>
<g id="b50" transform="translate(236 452)"><rect x="-4.5" y="-5.5" width="9" height="11"/><text y="2.1">7</text></g>
<g id="b51" transform="translate(249 452)"><rect x="-4.5" y="-5.5" width="9" height="11"/><text y="2.1">8</text></g>
<g id="b52" transform="translate(262 452)"><rect x="-4.5" y="-5.5" width="9" height="11"/><text y="2.1">8</text></g>
<g id="b53" transform="translate(273 452)"><rect x="-4.5" y="-5.5" width="9" height="11"/><text y="2.1">7</text></g>
<g id="b54" transform="translate(287 452)"><rect x="-4.5" y="-5.5" width="9" height="11"/><text y="2.1">8</text></g>
<g id="b55" transform="translate(319 452)"><rect x="-4.5" y="-5.5" width="9" height="11"/><text y="2.1">8</text></g>
<g id="b56" transform="translate(332 452)"><rect x="-4.5" y="-5.5" width="9" height="11"/><text y="2.1">8</text></g>
<g id="b57" transform="translate(360 452)"><rect x="-4.5" y="-5.5" width="9" height="11"/><text y="2.1">8</text></g>
<g id="b58" transform="translate(376 452)"><rect x="-4.5" y="-5.5" width="9" height="11"/><text y="2.1">7</text></g>
<g id="b59" transform="translate(396 452)"><rect x="-4.5" y="-5.5" width="9" height="11"/><text y="2.1">8</text></g>
<g id="b60" transform="translate(11 473)"><rect x="-4.5" y="-5.5" width="9" height="11"/><text y="2.1">7</text></g>
<g id="b61" transform="translate(21 473)"><rect x="-4.5" y="-5.5" width="9" height="11"/><text y="2.1">6</text></g>
<g id="b62" transform="translate(32 473)"><rect x="-4.5" y="-5.5" width="9" height="11"/><text y="2.1">6</text></g>
<g id="b63" transform="translate(43 473)"><rect x="-4.5" y="-5.5" width="9" height="11"/><text y="2.1">6</text></g>
<g id="b64" transform="translate(54 473)"><rect x="-4.5" y="-5.5" width="9" height="11"/><text y="2.1">6</text></g>
<g id="b65" transform="translate(64 473)"><rect x="-4.5" y="-5.5" width="9" height="11"/><text y="2.1">8</text></g>
<g id="b66" transform="translate(76 473)"><rect x="-4.5" y="-5.5" width="9" height="11"/><text y="2.1">7</text></g>
<g id="b67" transform="translate(86 473)"><rect x="-4.5" y="-5.5" width="9" height="11"/><text y="2.1">8</text></g>
<g id="b68" transform="translate(97 473)"><rect x="-4.5" y="-5.5" width="9" height="11"/><text y="2.1">7</text></g>
<g id="b69" transform="translate(108 473)"><rect x="-4.5" y="-5.5" width="9" height="11"/><text y="2.1">6</text></g>
<g id="b70" transform="translate(119 473)"><rect x="-4.5" y="-5.5" width="9" height="11"/><text y="2.1">6</text></g>
<g id="b71" transform="translate(131 473)"><rect x="-4.5" y="-5.5" width="9" height="11"/><text y="2.1">6</text></g>
<g id="b72" transform="translate(142 473)"><rect x="-4.5" y="-5.5" width="9" height="11"/><text y="2.1">6</text></g>
<g id="b73" transform="translate(153 473)"><rect x="-4.5" y="-5.5" width="9" height="11"/><text y="2.1">6</text></g>
<g id="b74" transform="translate(163 473)"><rect x="-4.5" y="-5.5" width="9" height="11"/><text y="2.1">6</text></g>
<g id="b75" transform="translate(174 473)"><rect x="-4.5" y="-5.5" width="9" height="11"/><text y="2.1">7</text></g>
<g id="b76" transform="translate(186 473)"><rect x="-4.5" y="-5.5" width="9" height="11"/><text y="2.1">7</text></g>
<g id="b77" transform="translate(197 473)"><rect x="-4.5" y="-5.5" width="9" height="11"/><text y="2.1">6</text></g>
<g id="b78" transform="translate(208 473)"><rect x="-4.5" y="-5.5" width="9" height="11"/><text y="2.1">6</text></g>
<g id="b79" transform="translate(218 473)"><rect x="-4.5" y="-5.5" width="9" height="11"/><text y="2.1">8</text></g>
<g id="b80" transform="translate(229 473)"><rect x="-4.5" y="-5.5" width="9" height="11"/><text y="2.1">8</text></g>
<g id="b81" transform="translate(240 473)"><rect x="-4.5" y="-5.5" width="9" height="11"/><text y="2.1">7</text></g>
<g id="b82" transform="translate(250 473)"><rect x="-4.5" y="-5.5" width="9" height="11"/><text y="2.1">6</text></g>
<g id="b83" transform="translate(262 473)"><rect x="-4.5" y="-5.5" width="9" height="11"/><text y="2.1">8</text></g>
<g id="b84" transform="translate(273 473)"><rect x="-4.5" y="-5.5" width="9" height="11"/><text y="2.1">6</text></g>
<g id="b85" transform="translate(283 473)"><rect x="-4.5" y="-5.5" width="9" height="11"/><text y="2.1">8</text></g>
<g id="b86" transform="translate(293 473)"><rect x="-4.5" y="-5.5" width="9" height="11"/><text y="2.1">8</text></g>
<g id="b87" transform="translate(304 473)"><rect x="-4.5" y="-5.5" width="9" height="11"/><text y="2.1">8</text></g>
<g id="b88" transform="translate(315 473)"><rect x="-4.5" y="-5.5" width="9" height="11"/><text y="2.1">6</text></g>
<g id="b89" transform="translate(326 473)"><rect x="-4.5" y="-5.5" width="9" height="11"/><text y="2.1">6</text></g>
<g id="b90" transform="translate(337 473)"><rect x="-4.5" y="-5.5" width="9" height="11"/><text y="2.1">7</text></g>
<g id="b91" transform="translate(347 473)"><rect x="-4.5" y="-5.5" width="9" height="11"/><text y="2.1">6</text></g>
<g id="b92" transform="translate(358 473)"><rect x="-4.5" y="-5.5" width="9" height="11"/><text y="2.1">6</text></g>
<g id="b93" transform="translate(370 473)"><rect x="-4.5" y="-5.5" width="9" height="11"/><text y="2.1">8</text></g>
<g id="b94" transform="translate(381 473)"><rect x="-4.5" y="-5.5" width="9" height="11"/><text y="2.1">8</text></g>
<g id="b95" transform="translate(392 473)"><rect x="-4.5" y="-5.5" width="9" height="11"/><text y="2.1">7</text></g>
<g id="b96" transform="translate(403 473)"><rect x="-4.5" y="-5.5" width="9" height="11"/><text y="2.1">8</text></g>
<g id="b97" transform="translate(413 473)"><rect x="-4.5" y="-5.5" width="9" height="11"/><text y="2.1">8</text></g>
<g id="b98" transform="translate(11 494)"><rect x="-4.5" y="-5.5" width="9" height="11"/><text y="2.1">6</text></g>
<g id="b99" transform="translate(21 494)"><rect x="-4.5" y="-5.5" width="9" height="11"/><text y="2.1">5</text></g>
<g id="b100" transform="translate(43 494)"><rect x="-4.5" y="-5.5" width="9" height="11"/><text y="2.1">6</text></g>
<g id="b101" transform="translate(64 494)"><rect x="-4.5" y="-5.5" width="9" height="11"/><text y="2.1">5</text></g>
<g id="b102" transform="translate(76 494)"><rect x="-4.5" y="-5.5" width="9" height="11"/><text y="2.1">5</text></g>
<g id="b103" transform="translate(86 494)"><rect x="-4.5" y="-5.5" width="9" height="11"/><text y="2.1">5</text></g>
<g id="b104" transform="translate(97 494)"><rect x="-4.5" y="-5.5" width="9" height="11"/><text y="2.1">5</text></g>
<g id="b105" transform="translate(108 494)"><rect x="-4.5" y="-5.5" width="9" height="11"/><text y="2.1">5</text></g>
<g id="b106" transform="translate(131 494)"><rect x="-4.5" y="-5.5" width="9" height="11"/><text y="2.1">5</text></g>
<g id="b107" transform="translate(141 494)"><rect x="-4.5" y="-5.5" width="9" height="11"/><text y="2.1">5</text></g>
<g id="b108" transform="translate(163 494)"><rect x="-4.5" y="-5.5" width="9" height="11"/><text y="2.1">5</text></g>
<g id="b109" transform="translate(174 494)"><rect x="-4.5" y="-5.5" width="9" height="11"/><text y="2.1">6</text></g>
<g id="b110" transform="translate(186 494)"><rect x="-4.5" y="-5.5" width="9" height="11"/><text y="2.1">5</text></g>
<g id="b111" transform="translate(197 494)"><rect x="-4.5" y="-5.5" width="9" height="11"/><text y="2.1">5</text></g>
<g id="b112" transform="translate(218 494)"><rect x="-4.5" y="-5.5" width="9" height="11"/><text y="2.1">6</text></g>
<g id="b113" transform="translate(229 494)"><rect x="-4.5" y="-5.5" width="9" height="11"/><text y="2.1">6</text></g>
<g id="b114" transform="translate(240 494)"><rect x="-4.5" y="-5.5" width="9" height="11"/><text y="2.1">6</text></g>
<g id="b115" transform="translate(251 494)"><rect x="-4.5" y="-5.5" width="9" height="11"/><text y="2.1">5</text></g>
<g id="b116" transform="translate(274 494)"><rect x="-4.5" y="-5.5" width="9" height="11"/><text y="2.1">6</text></g>
<g id="b117" transform="translate(285 494)"><rect x="-4.5" y="-5.5" width="9" height="11"/><text y="2.1">5</text></g>
<g id="b118" transform="translate(304 494)"><rect x="-4.5" y="-5.5" width="9" height="11"/><text y="2.1">5</text></g>
<g id="b119" transform="translate(326 494)"><rect x="-4.5" y="-5.5" width="9" height="11"/><text y="2.1">5</text></g>
<g id="b120" transform="translate(337 494)"><rect x="-4.5" y="-5.5" width="9" height="11"/><text y="2.1">5</text></g>
<g id="b121" transform="translate(347 494)"><rect x="-4.5" y="-5.5" width="9" height="11"/><text y="2.1">5</text></g>
<g id="b122" transform="translate(368 494)"><rect x="-4.5" y="-5.5" width="9" height="11"/><text y="2.1">5</text></g>
<g id="b123" transform="translate(381 494)"><rect x="-4.5" y="-5.5" width="9" height="11"/><text y="2.1">5</text></g>
<g id="b124" transform="translate(393 494)"><rect x="-4.5" y="-5.5" width="9" height="11"/><text y="2.1">5</text></g>
<g id="b125" transform="translate(403 494)"><rect x="-4.5" y="-5.5" width="9" height="11"/><text y="2.1">7</text></g>
<g id="b126" transform="translate(414 494)"><rect x="-4.5" y="-5.5" width="9" height="11"/><text y="2.1">7</text></g>
<g id="b127" transform="translate(425 494)"><rect x="-4.5" y="-5.5" width="9" height="11"/><text y="2.1">6</text></g>
<g id="b128" transform="translate(11 516)"><rect x="-4.5" y="-5.5" width="9" height="11"/><text y="2.1">4</text></g>
<g id="b129" transform="translate(43 516)"><rect x="-4.5" y="-5.5" width="9" height="11"/><text y="2.1">4</text></g>
<g id="b130" transform="translate(64 516)"><rect x="-4.5" y="-5.5" width="9" height="11"/><text y="2.1">4</text></g>
<g id="b131" transform="translate(76 516)"><rect x="-4.5" y="-5.5" width="9" height="11"/><text y="2.1">4</text></g>
<g id="b132" transform="translate(97 516)"><rect x="-4.5" y="-5.5" width="9" height="11"/><text y="2.1">4</text></g>
<g id="b133" transform="translate(131 516)"><rect x="-4.5" y="-5.5" width="9" height="11"/><text y="2.1">4</text></g>
<g id="b134" transform="translate(141 516)"><rect x="-4.5" y="-5.5" width="9" height="11"/><text y="2.1">4</text></g>
<g id="b135" transform="translate(172 516)"><rect x="-4.5" y="-5.5" width="9" height="11"/><text y="2.1">4</text></g>
<g id="b136" transform="translate(183 516)"><rect x="-4.5" y="-5.5" width="9" height="11"/><text y="2.1">4</text></g>
<g id="b137" transform="translate(217 516)"><rect x="-4.5" y="-5.5" width="9" height="11"/><text y="2.1">4</text></g>
<g id="b138" transform="translate(238 516)"><rect x="-4.5" y="-5.5" width="9" height="11"/><text y="2.1">4</text></g>
<g id="b139" transform="translate(250 516)"><rect x="-4.5" y="-5.5" width="9" height="11"/><text y="2.1">4</text></g>
<g id="b140" transform="translate(274 516)"><rect x="-4.5" y="-5.5" width="9" height="11"/><text y="2.1">4</text></g>
<g id="b141" transform="translate(285 516)"><rect x="-4.5" y="-5.5" width="9" height="11"/><text y="2.1">5</text></g>
<g id="b142" transform="translate(303 516)"><rect x="-4.5" y="-5.5" width="9" height="11"/><text y="2.1">4</text></g>
<g id="b143" transform="translate(326 516)"><rect x="-4.5" y="-5.5" width="9" height="11"/><text y="2.1">4</text></g>
<g id="b144" transform="translate(337 516)"><rect x="-4.5" y="-5.5" width="9" height="11"/><text y="2.1">4</text></g>
<g id="b145" transform="translate(368 516)"><rect x="-4.5" y="-5.5" width="9" height="11"/><text y="2.1">4</text></g>
<g id="b146" transform="translate(380 516)"><rect x="-4.5" y="-5.5" width="9" height="11"/><text y="2.1">4</text></g>
<g id="b147" transform="translate(392 516)"><rect x="-4.5" y="-5.5" width="9" height="11"/><text y="2.1">5</text></g>
<g id="b148" transform="translate(402 516)"><rect x="-4.5" y="-5.5" width="9" height="11"/><text y="2.1">5</text></g>
<g id="b149" transform="translate(413 516)"><rect x="-4.5" y="-5.5" width="9" height="11"/><text y="2.1">5</text></g>
<g id="b150" transform="translate(423 516)"><rect x="-4.5" y="-5.5" width="9" height="11"/><text y="2.1">5</text></g>
<g id="b151" transform="translate(433 516)"><rect x="-4.5" y="-5.5" width="9" height="11"/><text y="2.1">5</text></g>
</g>
<g id="tree-11" class="n">
<g id="c1" transform="translate(231 552)"><rect x="-5.5" y="-6" width="11" height="12"/><text y="2.1">41</text></g>
<g id="c2" transform="translate(201 576)"><rect x="-4.5" y="-5.5" width="9" height="11"/><text y="2.1">10</text></g>
<g id="c3" transform="translate(133 599)"><rect x="-4.5" y="-5.5" width="9" height="11"/><text y="2.1">10</text></g>
<g id="c4" transform="translate(155 599)"><rect x="-4.5" y="-5.5" width="9" height="11"/><text y="2.1">10</text></g>
<g id="c5" transform="translate(171 599)"><rect x="-4.5" y="-5.5" width="9" height="11"/><text y="2.1">11</text></g>
<g id="c6" transform="translate(187 599)"><rect x="-4.5" y="-5.5" width="9" height="11"/><text y="2.1">12</text></g>
<g id="c7" transform="translate(202 599)"><rect x="-4.5" y="-5.5" width="9" height="11"/><text y="2.1">10</text></g>
<g id="c8" transform="translate(218 599)"><rect x="-4.5" y="-5.5" width="9" height="11"/><text y="2.1">10</text></g>
<g id="c9" transform="translate(234 599)"><rect x="-4.5" y="-5.5" width="9" height="11"/><text y="2.1">10</text></g>
<g id="c10" transform="translate(249 599)"><rect x="-4.5" y="-5.5" width="9" height="11"/><text y="2.1">10</text></g>
<g id="c11" transform="translate(266 599)"><rect x="-4.5" y="-5.5" width="9" height="11"/><text y="2.1">11</text></g>
<g id="c12" transform="translate(281 599)"><rect x="-4.5" y="-5.5" width="9" height="11"/><text y="2.1">12</text></g>
<g id="c13" transform="translate(297 599)"><rect x="-4.5" y="-5.5" width="9" height="11"/><text y="2.1">10</text></g>
<g id="c14" transform="translate(318 599)"><rect x="-4.5" y="-5.5" width="9" height="11"/><text y="2.1">10</text></g>
<g id="c15" transform="translate(85 623)"><rect x="-4.5" y="-5.5" width="9" height="11"/><text y="2.1">11</text></g>
<g id="c16" transform="translate(118 623)"><rect x="-4.5" y="-5.5" width="9" height="11"/><text y="2.1">11</text></g>
<g id="c17" transform="translate(147 623)"><rect x="-4.5" y="-5.5" width="9" height="11"/><text y="2.1">9</text></g>
<g id="c18" transform="translate(188 623)"><rect x="-4.5" y="-5.5" width="9" height="11"/><text y="2.1">2</text></g>
<g id="c19" transform="translate(201 623)"><rect x="-4.5" y="-5.5" width="9" height="11"/><text y="2.1">11</text></g>
<g id="c20" transform="translate(217 623)"><rect x="-4.5" y="-5.5" width="9" height="11"/><text y="2.1">11</text></g>
<g id="c21" transform="translate(236 623)"><rect x="-4.5" y="-5.5" width="9" height="11"/><text y="2.1">11</text></g>
<g id="c22" transform="translate(252 623)"><rect x="-4.5" y="-5.5" width="9" height="11"/><text y="2.1">11</text></g>
<g id="c23" transform="translate(266 623)"><rect x="-4.5" y="-5.5" width="9" height="11"/><text y="2.1">2</text></g>
<g id="c24" transform="translate(281 623)"><rect x="-4.5" y="-5.5" width="9" height="11"/><text y="2.1">2</text></g>
<g id="c25" transform="translate(330 623)"><rect x="-4.5" y="-5.5" width="9" height="11"/><text y="2.1">11</text></g>
<g id="c26" transform="translate(363 623)"><rect x="-4.5" y="-5.5" width="9" height="11"/><text y="2.1">11</text></g>
<g id="c27" transform="translate(64 646)"><rect x="-4.5" y="-5.5" width="9" height="11"/><text y="2.1">9</text></g>
<g id="c28" transform="translate(103 646)"><rect x="-4.5" y="-5.5" width="9" height="11"/><text y="2.1">9</text></g>
<g id="c29" transform="translate(132 646)"><rect x="-4.5" y="-5.5" width="9" height="11"/><text y="2.1">7</text></g>
<g id="c30" transform="translate(179 646)"><rect x="-4.5" y="-5.5" width="9" height="11"/><text y="2.1">9</text></g>
<g id="c31" transform="translate(220 646)"><rect x="-4.5" y="-5.5" width="9" height="11"/><text y="2.1">9</text></g>
<g id="c32" transform="translate(247 646)"><rect x="-4.5" y="-5.5" width="9" height="11"/><text y="2.1">9</text></g>
<g id="c33" transform="translate(263 646)"><rect x="-4.5" y="-5.5" width="9" height="11"/><text y="2.1">9</text></g>
<g id="c34" transform="translate(283 646)"><rect x="-4.5" y="-5.5" width="9" height="11"/><text y="2.1">8</text></g>
<g id="c35" transform="translate(343 646)"><rect x="-4.5" y="-5.5" width="9" height="11"/><text y="2.1">9</text></g>
<g id="c36" transform="translate(383 646)"><rect x="-4.5" y="-5.5" width="9" height="11"/><text y="2.1">9</text></g>
<g id="c37" transform="translate(31 679)"><rect x="-4.5" y="-5.5" width="9" height="11"/><text y="2.1">8</text></g>
<g id="c38" transform="translate(49 679)"><rect x="-4.5" y="-5.5" width="9" height="11"/><text y="2.1">7</text></g>
<g id="c39" transform="translate(74 679)"><rect x="-4.5" y="-5.5" width="9" height="11"/><text y="2.1">8</text></g>
<g id="c40" transform="translate(90 679)"><rect x="-4.5" y="-5.5" width="9" height="11"/><text y="2.1">7</text></g>
<g id="c41" transform="translate(116 679)"><rect x="-4.5" y="-5.5" width="9" height="11"/><text y="2.1">7</text></g>
<g id="c42" transform="translate(127 679)"><rect x="-4.5" y="-5.5" width="9" height="11"/><text y="2.1">6</text></g>
<g id="c43" transform="translate(138 679)"><rect x="-4.5" y="-5.5" width="9" height="11"/><text y="2.1">8</text></g>
<g id="c44" transform="translate(171 679)"><rect x="-4.5" y="-5.5" width="9" height="11"/><text y="2.1">7</text></g>
<g id="c45" transform="translate(184 679)"><rect x="-4.5" y="-5.5" width="9" height="11"/><text y="2.1">8</text></g>
<g id="c46" transform="translate(207 679)"><rect x="-4.5" y="-5.5" width="9" height="11"/><text y="2.1">8</text></g>
<g id="c47" transform="translate(225 679)"><rect x="-4.5" y="-5.5" width="9" height="11"/><text y="2.1">7</text></g>
<g id="c48" transform="translate(237 679)"><rect x="-4.5" y="-5.5" width="9" height="11"/><text y="2.1">8</text></g>
<g id="c49" transform="translate(248 679)"><rect x="-4.5" y="-5.5" width="9" height="11"/><text y="2.1">7</text></g>
<g id="c50" transform="translate(259 679)"><rect x="-4.5" y="-5.5" width="9" height="11"/><text y="2.1">8</text></g>
<g id="c51" transform="translate(270 679)"><rect x="-4.5" y="-5.5" width="9" height="11"/><text y="2.1">7</text></g>
<g id="c52" transform="translate(283 679)"><rect x="-4.5" y="-5.5" width="9" height="11"/><text y="2.1">8</text></g>
<g id="c53" transform="translate(347 679)"><rect x="-4.5" y="-5.5" width="9" height="11"/><text y="2.1">7</text></g>
<g id="c54" transform="translate(369 679)"><rect x="-4.5" y="-5.5" width="9" height="11"/><text y="2.1">8</text></g>
<g id="c55" transform="translate(392 679)"><rect x="-4.5" y="-5.5" width="9" height="11"/><text y="2.1">7</text></g>
<g id="c56" transform="translate(415 679)"><rect x="-4.5" y="-5.5" width="9" height="11"/><text y="2.1">8</text></g>
<g id="c57" transform="translate(12 702)"><rect x="-4.5" y="-5.5" width="9" height="11"/><text y="2.1">5</text></g>
<g id="c58" transform="translate(23 702)"><rect x="-4.5" y="-5.5" width="9" height="11"/><text y="2.1">8</text></g>
<g id="c59" transform="translate(34 702)"><rect x="-4.5" y="-5.5" width="9" height="11"/><text y="2.1">7</text></g>
<g id="c60" transform="translate(45 702)"><rect x="-4.5" y="-5.5" width="9" height="11"/><text y="2.1">6</text></g>
<g id="c61" transform="translate(57 702)"><rect x="-4.5" y="-5.5" width="9" height="11"/><text y="2.1">6</text></g>
<g id="c62" transform="translate(68 702)"><rect x="-4.5" y="-5.5" width="9" height="11"/><text y="2.1">5</text></g>
<g id="c63" transform="translate(79 702)"><rect x="-4.5" y="-5.5" width="9" height="11"/><text y="2.1">7</text></g>
<g id="c64" transform="translate(91 702)"><rect x="-4.5" y="-5.5" width="9" height="11"/><text y="2.1">8</text></g>
<g id="c65" transform="translate(102 702)"><rect x="-4.5" y="-5.5" width="9" height="11"/><text y="2.1">6</text></g>
<g id="c66" transform="translate(113 702)"><rect x="-4.5" y="-5.5" width="9" height="11"/><text y="2.1">6</text></g>
<g id="c67" transform="translate(125 702)"><rect x="-4.5" y="-5.5" width="9" height="11"/><text y="2.1">8</text></g>
<g id="c68" transform="translate(137 702)"><rect x="-4.5" y="-5.5" width="9" height="11"/><text y="2.1">6</text></g>
<g id="c69" transform="translate(148 702)"><rect x="-4.5" y="-5.5" width="9" height="11"/><text y="2.1">6</text></g>
<g id="c70" transform="translate(160 702)"><rect x="-4.5" y="-5.5" width="9" height="11"/><text y="2.1">7</text></g>
<g id="c71" transform="translate(172 702)"><rect x="-4.5" y="-5.5" width="9" height="11"/><text y="2.1">6</text></g>
<g id="c72" transform="translate(183 702)"><rect x="-4.5" y="-5.5" width="9" height="11"/><text y="2.1">6</text></g>
<g id="c73" transform="translate(195 702)"><rect x="-4.5" y="-5.5" width="9" height="11"/><text y="2.1">5</text></g>
<g id="c74" transform="translate(207 702)"><rect x="-4.5" y="-5.5" width="9" height="11"/><text y="2.1">6</text></g>
<g id="c75" transform="translate(218 702)"><rect x="-4.5" y="-5.5" width="9" height="11"/><text y="2.1">6</text></g>
<g id="c76" transform="translate(230 702)"><rect x="-4.5" y="-5.5" width="9" height="11"/><text y="2.1">7</text></g>
<g id="c77" transform="translate(241 702)"><rect x="-4.5" y="-5.5" width="9" height="11"/><text y="2.1">5</text></g>
<g id="c78" transform="translate(252 702)"><rect x="-4.5" y="-5.5" width="9" height="11"/><text y="2.1">8</text></g>
<g id="c79" transform="translate(263 702)"><rect x="-4.5" y="-5.5" width="9" height="11"/><text y="2.1">7</text></g>
<g id="c80" transform="translate(275 702)"><rect x="-4.5" y="-5.5" width="9" height="11"/><text y="2.1">8</text></g>
<g id="c81" transform="translate(287 702)"><rect x="-4.5" y="-5.5" width="9" height="11"/><text y="2.1">5</text></g>
<g id="c82" transform="translate(298 702)"><rect x="-4.5" y="-5.5" width="9" height="11"/><text y="2.1">6</text></g>
<g id="c83" transform="translate(308 702)"><rect x="-4.5" y="-5.5" width="9" height="11"/><text y="2.1">6</text></g>
<g id="c84" transform="translate(320 702)"><rect x="-4.5" y="-5.5" width="9" height="11"/><text y="2.1">7</text></g>
<g id="c85" transform="translate(331 702)"><rect x="-4.5" y="-5.5" width="9" height="11"/><text y="2.1">8</text></g>
<g id="c86" transform="translate(343 702)"><rect x="-4.5" y="-5.5" width="9" height="11"/><text y="2.1">7</text></g>
<g id="c87" transform="translate(354 702)"><rect x="-4.5" y="-5.5" width="9" height="11"/><text y="2.1">8</text></g>
<g id="c88" transform="translate(366 702)"><rect x="-4.5" y="-5.5" width="9" height="11"/><text y="2.1">6</text></g>
<g id="c89" transform="translate(377 702)"><rect x="-4.5" y="-5.5" width="9" height="11"/><text y="2.1">6</text></g>
<g id="c90" transform="translate(388 702)"><rect x="-4.5" y="-5.5" width="9" height="11"/><text y="2.1">7</text></g>
<g id="c91" transform="translate(399 702)"><rect x="-4.5" y="-5.5" width="9" height="11"/><text y="2.1">8</text></g>
<g id="c92" transform="translate(411 702)"><rect x="-4.5" y="-5.5" width="9" height="11"/><text y="2.1">6</text></g>
<g id="c93" transform="translate(422 702)"><rect x="-4.5" y="-5.5" width="9" height="11"/><text y="2.1">6</text></g>
<g id="c94" transform="translate(433 702)"><rect x="-4.5" y="-5.5" width="9" height="11"/><text y="2.1">6</text></g>
<g id="c95" transform="translate(23 725)"><rect x="-4.5" y="-5.5" width="9" height="11"/><text y="2.1">5</text></g>
<g id="c96" transform="translate(34 725)"><rect x="-4.5" y="-5.5" width="9" height="11"/><text y="2.1">5</text></g>
<g id="c97" transform="translate(45 725)"><rect x="-4.5" y="-5.5" width="9" height="11"/><text y="2.1">6</text></g>
<g id="c98" transform="translate(57 725)"><rect x="-4.5" y="-5.5" width="9" height="11"/><text y="2.1">5</text></g>
<g id="c99" transform="translate(79 725)"><rect x="-4.5" y="-5.5" width="9" height="11"/><text y="2.1">5</text></g>
<g id="c100" transform="translate(91 725)"><rect x="-4.5" y="-5.5" width="9" height="11"/><text y="2.1">5</text></g>
<g id="c101" transform="translate(102 725)"><rect x="-4.5" y="-5.5" width="9" height="11"/><text y="2.1">5</text></g>
<g id="c102" transform="translate(113 725)"><rect x="-4.5" y="-5.5" width="9" height="11"/><text y="2.1">5</text></g>
<g id="c103" transform="translate(125 725)"><rect x="-4.5" y="-5.5" width="9" height="11"/><text y="2.1">5</text></g>
<g id="c104" transform="translate(137 725)"><rect x="-4.5" y="-5.5" width="9" height="11"/><text y="2.1">5</text></g>
<g id="c105" transform="translate(151 725)"><rect x="-4.5" y="-5.5" width="9" height="11"/><text y="2.1">5</text></g>
<g id="c106" transform="translate(162 725)"><rect x="-4.5" y="-5.5" width="9" height="11"/><text y="2.1">5</text></g>
<g id="c107" transform="translate(184 725)"><rect x="-4.5" y="-5.5" width="9" height="11"/><text y="2.1">5</text></g>
<g id="c108" transform="translate(207 725)"><rect x="-4.5" y="-5.5" width="9" height="11"/><text y="2.1">5</text></g>
<g id="c109" transform="translate(218 725)"><rect x="-4.5" y="-5.5" width="9" height="11"/><text y="2.1">5</text></g>
<g id="c110" transform="translate(230 725)"><rect x="-4.5" y="-5.5" width="9" height="11"/><text y="2.1">5</text></g>
<g id="c111" transform="translate(252 725)"><rect x="-4.5" y="-5.5" width="9" height="11"/><text y="2.1">5</text></g>
<g id="c112" transform="translate(263 725)"><rect x="-4.5" y="-5.5" width="9" height="11"/><text y="2.1">5</text></g>
<g id="c113" transform="translate(275 725)"><rect x="-4.5" y="-5.5" width="9" height="11"/><text y="2.1">5</text></g>
<g id="c114" transform="translate(287 725)"><rect x="-4.5" y="-5.5" width="9" height="11"/><text y="2.1">5</text></g>
<g id="c115" transform="translate(298 725)"><rect x="-4.5" y="-5.5" width="9" height="11"/><text y="2.1">5</text></g>
<g id="c116" transform="translate(308 725)"><rect x="-4.5" y="-5.5" width="9" height="11"/><text y="2.1">5</text></g>
<g id="c117" transform="translate(319 725)"><rect x="-4.5" y="-5.5" width="9" height="11"/><text y="2.1">6</text></g>
<g id="c118" transform="translate(331 725)"><rect x="-4.5" y="-5.5" width="9" height="11"/><text y="2.1">7</text></g>
<g id="c119" transform="translate(343 725)"><rect x="-4.5" y="-5.5" width="9" height="11"/><text y="2.1">7</text></g>
<g id="c120" transform="translate(354 725)"><rect x="-4.5" y="-5.5" width="9" height="11"/><text y="2.1">6</text></g>
<g id="c121" transform="translate(366 725)"><rect x="-4.5" y="-5.5" width="9" height="11"/><text y="2.1">5</text></g>
<g id="c122" transform="translate(377 725)"><rect x="-4.5" y="-5.5" width="9" height="11"/><text y="2.1">5</text></g>
<g id="c123" transform="translate(388 725)"><rect x="-4.5" y="-5.5" width="9" height="11"/><text y="2.1">5</text></g>
<g id="c124" transform="translate(399 725)"><rect x="-4.5" y="-5.5" width="9" height="11"/><text y="2.1">5</text></g>
<g id="c125" transform="translate(411 725)"><rect x="-4.5" y="-5.5" width="9" height="11"/><text y="2.1">5</text></g>
<g id="c126" transform="translate(432 725)"><rect x="-4.5" y="-5.5" width="9" height="11"/><text y="2.1">5</text></g>
<g id="c127" transform="translate(23 747)"><rect x="-4.5" y="-5.5" width="9" height="11"/><text y="2.1">4</text></g>
<g id="c128" transform="translate(34 747)"><rect x="-4.5" y="-5.5" width="9" height="11"/><text y="2.1">4</text></g>
<g id="c129" transform="translate(57 747)"><rect x="-4.5" y="-5.5" width="9" height="11"/><text y="2.1">4</text></g>
<g id="c130" transform="translate(79 747)"><rect x="-4.5" y="-5.5" width="9" height="11"/><text y="2.1">4</text></g>
<g id="c131" transform="translate(103 747)"><rect x="-4.5" y="-5.5" width="9" height="11"/><text y="2.1">3</text></g>
<g id="c132" transform="translate(114 747)"><rect x="-4.5" y="-5.5" width="9" height="11"/><text y="2.1">4</text></g>
<g id="c133" transform="translate(126 747)"><rect x="-4.5" y="-5.5" width="9" height="11"/><text y="2.1">4</text></g>
<g id="c134" transform="translate(163 747)"><rect x="-4.5" y="-5.5" width="9" height="11"/><text y="2.1">4</text></g>
<g id="c135" transform="translate(187 747)"><rect x="-4.5" y="-5.5" width="9" height="11"/><text y="2.1">4</text></g>
<g id="c136" transform="translate(210 747)"><rect x="-4.5" y="-5.5" width="9" height="11"/><text y="2.1">4</text></g>
<g id="c137" transform="translate(233 747)"><rect x="-4.5" y="-5.5" width="9" height="11"/><text y="2.1">4</text></g>
<g id="c138" transform="translate(256 747)"><rect x="-4.5" y="-5.5" width="9" height="11"/><text y="2.1">4</text></g>
<g id="c139" transform="translate(267 747)"><rect x="-4.5" y="-5.5" width="9" height="11"/><text y="2.1">4</text></g>
<g id="c140" transform="translate(290 747)"><rect x="-4.5" y="-5.5" width="9" height="11"/><text y="2.1">4</text></g>
<g id="c141" transform="translate(301 747)"><rect x="-4.5" y="-5.5" width="9" height="11"/><text y="2.1">4</text></g>
<g id="c142" transform="translate(312 747)"><rect x="-4.5" y="-5.5" width="9" height="11"/><text y="2.1">5</text></g>
<g id="c143" transform="translate(323 747)"><rect x="-4.5" y="-5.5" width="9" height="11"/><text y="2.1">5</text></g>
<g id="c144" transform="translate(333 747)"><rect x="-4.5" y="-5.5" width="9" height="11"/><text y="2.1">4</text></g>
<g id="c145" transform="translate(344 747)"><rect x="-4.5" y="-5.5" width="9" height="11"/><text y="2.1">5</text></g>
<g id="c146" transform="translate(355 747)"><rect x="-4.5" y="-5.5" width="9" height="11"/><text y="2.1">5</text></g>
<g id="c147" transform="translate(367 747)"><rect x="-4.5" y="-5.5" width="9" height="11"/><text y="2.1">4</text></g>
<g id="c148" transform="translate(380 747)"><rect x="-4.5" y="-5.5" width="9" height="11"/><text y="2.1">4</text></g>
<g id="c149" transform="translate(393 747)"><rect x="-4.5" y="-5.5" width="9" height="11"/><text y="2.1">4</text></g>
<g id="c150" transform="translate(432 747)"><rect x="-4.5" y="-5.5" width="9" height="11"/><text y="2.1">4</text></g>
</g>
<g id="tree-7" class="n">
<g id="d1" transform="translate(211 776)"><rect x="-5.5" y="-6" width="11" height="12"/><text y="2.1">90</text></g>
<g id="d2" transform="translate(180 797)"><rect x="-4.5" y="-5.5" width="9" height="11"/><text y="2.1">7</text></g>
<g id="d3" transform="translate(229 797)"><rect x="-2.5" y="-4" width="5" height="8"/><text y="2" font-size="4.5">8</text></g>
<g id="d4" transform="translate(235 797)"><rect x="-2.5" y="-4" width="5" height="8"/><text y="2" font-size="4.5">8</text></g>
<g id="d5" transform="translate(241 797)"><rect x="-2.5" y="-4" width="5" height="8"/><text y="2" font-size="4.5">8</text></g>
<g id="d6" transform="translate(250 797)"><rect x="-4.5" y="-5.5" width="9" height="11"/><text y="2.1">2</text></g>
<g id="d7" transform="translate(262 797)"><rect x="-4.5" y="-5.5" width="9" height="11"/><text y="2.1">2</text></g>
<g id="d8" transform="translate(273 797)"><rect x="-4.5" y="-5.5" width="9" height="11"/><text y="2.1">2</text></g>
<g id="d9" transform="translate(69 818)"><rect x="-4.5" y="-5.5" width="9" height="11"/><text y="2.1">7</text></g>
<g id="d10" transform="translate(80 818)"><rect x="-4.5" y="-5.5" width="9" height="11"/><text y="2.1">7</text></g>
<g id="d11" transform="translate(92 818)"><rect x="-4.5" y="-5.5" width="9" height="11"/><text y="2.1">7</text></g>
<g id="d12" transform="translate(103 818)"><rect x="-4.5" y="-5.5" width="9" height="11"/><text y="2.1">7</text></g>
<g id="d13" transform="translate(114 818)"><rect x="-4.5" y="-5.5" width="9" height="11"/><text y="2.1">8</text></g>
<g id="d14" transform="translate(125 818)"><rect x="-4.5" y="-5.5" width="9" height="11"/><text y="2.1">7</text></g>
<g id="d15" transform="translate(137 818)"><rect x="-4.5" y="-5.5" width="9" height="11"/><text y="2.1">7</text></g>
<g id="d16" transform="translate(148 818)"><rect x="-4.5" y="-5.5" width="9" height="11"/><text y="2.1">7</text></g>
<g id="d17" transform="translate(159 818)"><rect x="-4.5" y="-5.5" width="9" height="11"/><text y="2.1">8</text></g>
<g id="d18" transform="translate(170 818)"><rect x="-4.5" y="-5.5" width="9" height="11"/><text y="2.1">8</text></g>
<g id="d19" transform="translate(182 818)"><rect x="-4.5" y="-5.5" width="9" height="11"/><text y="2.1">8</text></g>
<g id="d20" transform="translate(193 818)"><rect x="-4.5" y="-5.5" width="9" height="11"/><text y="2.1">7</text></g>
<g id="d21" transform="translate(204 818)"><rect x="-4.5" y="-5.5" width="9" height="11"/><text y="2.1">8</text></g>
<g id="d22" transform="translate(215 818)"><rect x="-4.5" y="-5.5" width="9" height="11"/><text y="2.1">8</text></g>
<g id="d23" transform="translate(227 818)"><rect x="-4.5" y="-5.5" width="9" height="11"/><text y="2.1">8</text></g>
<g id="d24" transform="translate(238 818)"><rect x="-4.5" y="-5.5" width="9" height="11"/><text y="2.1">6</text></g>
<g id="d25" transform="translate(249 818)"><rect x="-4.5" y="-5.5" width="9" height="11"/><text y="2.1">6</text></g>
<g id="d26" transform="translate(260 818)"><rect x="-4.5" y="-5.5" width="9" height="11"/><text y="2.1">2</text></g>
<g id="d27" transform="translate(272 818)"><rect x="-4.5" y="-5.5" width="9" height="11"/><text y="2.1">8</text></g>
<g id="d28" transform="translate(283 818)"><rect x="-4.5" y="-5.5" width="9" height="11"/><text y="2.1">8</text></g>
<g id="d29" transform="translate(294 818)"><rect x="-4.5" y="-5.5" width="9" height="11"/><text y="2.1">8</text></g>
<g id="d30" transform="translate(305 818)"><rect x="-4.5" y="-5.5" width="9" height="11"/><text y="2.1">8</text></g>
<g id="d31" transform="translate(317 818)"><rect x="-4.5" y="-5.5" width="9" height="11"/><text y="2.1">6</text></g>
<g id="d32" transform="translate(328 818)"><rect x="-4.5" y="-5.5" width="9" height="11"/><text y="2.1">8</text></g>
<g id="d33" transform="translate(339 818)"><rect x="-4.5" y="-5.5" width="9" height="11"/><text y="2.1">8</text></g>
<g id="d34" transform="translate(350 818)"><rect x="-4.5" y="-5.5" width="9" height="11"/><text y="2.1">8</text></g>
<g id="d35" transform="translate(362 818)"><rect x="-4.5" y="-5.5" width="9" height="11"/><text y="2.1">8</text></g>
<g id="d36" transform="translate(373 818)"><rect x="-4.5" y="-5.5" width="9" height="11"/><text y="2.1">8</text></g>
<g id="d37" transform="translate(15 840)"><rect x="-4.5" y="-5.5" width="9" height="11"/><text y="2.1">7</text></g>
<g id="d38" transform="translate(26 840)"><rect x="-4.5" y="-5.5" width="9" height="11"/><text y="2.1">7</text></g>
<g id="d39" transform="translate(38 840)"><rect x="-4.5" y="-5.5" width="9" height="11"/><text y="2.1">7</text></g>
<g id="d40" transform="translate(49 840)"><rect x="-4.5" y="-5.5" width="9" height="11"/><text y="2.1">7</text></g>
<g id="d41" transform="translate(60 840)"><rect x="-4.5" y="-5.5" width="9" height="11"/><text y="2.1">5</text></g>
<g id="d42" transform="translate(72 840)"><rect x="-4.5" y="-5.5" width="9" height="11"/><text y="2.1">7</text></g>
<g id="d43" transform="translate(83 840)"><rect x="-4.5" y="-5.5" width="9" height="11"/><text y="2.1">7</text></g>
<g id="d44" transform="translate(94 840)"><rect x="-4.5" y="-5.5" width="9" height="11"/><text y="2.1">6</text></g>
<g id="d45" transform="translate(105 840)"><rect x="-4.5" y="-5.5" width="9" height="11"/><text y="2.1">8</text></g>
<g id="d46" transform="translate(117 840)"><rect x="-4.5" y="-5.5" width="9" height="11"/><text y="2.1">8</text></g>
<g id="d47" transform="translate(128 840)"><rect x="-4.5" y="-5.5" width="9" height="11"/><text y="2.1">5</text></g>
<g id="d48" transform="translate(139 840)"><rect x="-4.5" y="-5.5" width="9" height="11"/><text y="2.1">8</text></g>
<g id="d49" transform="translate(151 840)"><rect x="-4.5" y="-5.5" width="9" height="11"/><text y="2.1">8</text></g>
<g id="d50" transform="translate(162 840)"><rect x="-4.5" y="-5.5" width="9" height="11"/><text y="2.1">8</text></g>
<g id="d51" transform="translate(173 840)"><rect x="-4.5" y="-5.5" width="9" height="11"/><text y="2.1">7</text></g>
<g id="d52" transform="translate(185 840)"><rect x="-4.5" y="-5.5" width="9" height="11"/><text y="2.1">5</text></g>
<g id="d53" transform="translate(196 840)"><rect x="-4.5" y="-5.5" width="9" height="11"/><text y="2.1">8</text></g>
<g id="d54" transform="translate(207 840)"><rect x="-4.5" y="-5.5" width="9" height="11"/><text y="2.1">8</text></g>
<g id="d55" transform="translate(218 840)"><rect x="-4.5" y="-5.5" width="9" height="11"/><text y="2.1">8</text></g>
<g id="d56" transform="translate(230 840)"><rect x="-4.5" y="-5.5" width="9" height="11"/><text y="2.1">5</text></g>
<g id="d57" transform="translate(241 840)"><rect x="-4.5" y="-5.5" width="9" height="11"/><text y="2.1">5</text></g>
<g id="d58" transform="translate(252 840)"><rect x="-4.5" y="-5.5" width="9" height="11"/><text y="2.1">5</text></g>
<g id="d59" transform="translate(264 840)"><rect x="-4.5" y="-5.5" width="9" height="11"/><text y="2.1">7</text></g>
<g id="d60" transform="translate(275 840)"><rect x="-4.5" y="-5.5" width="9" height="11"/><text y="2.1">5</text></g>
<g id="d61" transform="translate(286 840)"><rect x="-4.5" y="-5.5" width="9" height="11"/><text y="2.1">6</text></g>
<g id="d62" transform="translate(298 840)"><rect x="-4.5" y="-5.5" width="9" height="11"/><text y="2.1">6</text></g>
<g id="d63" transform="translate(309 840)"><rect x="-4.5" y="-5.5" width="9" height="11"/><text y="2.1">5</text></g>
<g id="d64" transform="translate(320 840)"><rect x="-4.5" y="-5.5" width="9" height="11"/><text y="2.1">5</text></g>
<g id="d65" transform="translate(331 840)"><rect x="-4.5" y="-5.5" width="9" height="11"/><text y="2.1">5</text></g>
<g id="d66" transform="translate(343 840)"><rect x="-4.5" y="-5.5" width="9" height="11"/><text y="2.1">6</text></g>
<g id="d67" transform="translate(354 840)"><rect x="-4.5" y="-5.5" width="9" height="11"/><text y="2.1">5</text></g>
<g id="d68" transform="translate(365 840)"><rect x="-4.5" y="-5.5" width="9" height="11"/><text y="2.1">5</text></g>
<g id="d69" transform="translate(377 840)"><rect x="-4.5" y="-5.5" width="9" height="11"/><text y="2.1">5</text></g>
<g id="d70" transform="translate(388 840)"><rect x="-4.5" y="-5.5" width="9" height="11"/><text y="2.1">5</text></g>
<g id="d71" transform="translate(399 840)"><rect x="-4.5" y="-5.5" width="9" height="11"/><text y="2.1">5</text></g>
<g id="d72" transform="translate(411 840)"><rect x="-4.5" y="-5.5" width="9" height="11"/><text y="2.1">5</text></g>
<g id="d73" transform="translate(422 840)"><rect x="-4.5" y="-5.5" width="9" height="11"/><text y="2.1">5</text></g>
<g id="d74" transform="translate(433 840)"><rect x="-4.5" y="-5.5" width="9" height="11"/><text y="2.1">5</text></g>
<g id="d75" transform="translate(13 863)"><rect x="-4.5" y="-5.5" width="9" height="11"/><text y="2.1">5</text></g>
<g id="d76" transform="translate(25 863)"><rect x="-4.5" y="-5.5" width="9" height="11"/><text y="2.1">5</text></g>
<g id="d77" transform="translate(37 863)"><rect x="-4.5" y="-5.5" width="9" height="11"/><text y="2.1">5</text></g>
<g id="d78" transform="translate(48 863)"><rect x="-4.5" y="-5.5" width="9" height="11"/><text y="2.1">5</text></g>
<g id="d79" transform="translate(60 863)"><rect x="-4.5" y="-5.5" width="9" height="11"/><text y="2.1">5</text></g>
<g id="d80" transform="translate(71 863)"><rect x="-4.5" y="-5.5" width="9" height="11"/><text y="2.1">5</text></g>
<g id="d81" transform="translate(83 863)"><rect x="-4.5" y="-5.5" width="9" height="11"/><text y="2.1">5</text></g>
<g id="d82" transform="translate(95 863)"><rect x="-4.5" y="-5.5" width="9" height="11"/><text y="2.1">5</text></g>
<g id="d83" transform="translate(107 863)"><rect x="-4.5" y="-5.5" width="9" height="11"/><text y="2.1">7</text></g>
<g id="d84" transform="translate(118 863)"><rect x="-4.5" y="-5.5" width="9" height="11"/><text y="2.1">6</text></g>
<g id="d85" transform="translate(130 863)"><rect x="-4.5" y="-5.5" width="9" height="11"/><text y="2.1">7</text></g>
<g id="d86" transform="translate(150 863)"><rect x="-4.5" y="-5.5" width="9" height="11"/><text y="2.1">5</text></g>
<g id="d87" transform="translate(162 863)"><rect x="-4.5" y="-5.5" width="9" height="11"/><text y="2.1">5</text></g>
<g id="d88" transform="translate(175 863)"><rect x="-4.5" y="-5.5" width="9" height="11"/><text y="2.1">5</text></g>
<g id="d89" transform="translate(197 863)"><rect x="-4.5" y="-5.5" width="9" height="11"/><text y="2.1">5</text></g>
<g id="d90" transform="translate(208 863)"><rect x="-4.5" y="-5.5" width="9" height="11"/><text y="2.1">5</text></g>
<g id="d91" transform="translate(230 863)"><rect x="-4.5" y="-5.5" width="9" height="11"/><text y="2.1">5</text></g>
<g id="d92" transform="translate(276 863)"><rect x="-4.5" y="-5.5" width="9" height="11"/><text y="2.1">5</text></g>
<g id="d93" transform="translate(299 863)"><rect x="-4.5" y="-5.5" width="9" height="11"/><text y="2.1">5</text></g>
<g id="d94" transform="translate(312 863)"><rect x="-4.5" y="-5.5" width="9" height="11"/><text y="2.1">5</text></g>
<g id="d95" transform="translate(343 863)"><rect x="-4.5" y="-5.5" width="9" height="11"/><text y="2.1">5</text></g>
<g id="d96" transform="translate(366 863)"><rect x="-4.5" y="-5.5" width="9" height="11"/><text y="2.1">5</text></g>
<g id="d97" transform="translate(13 884)"><rect x="-4.5" y="-5.5" width="9" height="11"/><text y="2.1">4</text></g>
<g id="d98" transform="translate(24 884)"><rect x="-4.5" y="-5.5" width="9" height="11"/><text y="2.1">4</text></g>
<g id="d99" transform="translate(35 884)"><rect x="-4.5" y="-5.5" width="9" height="11"/><text y="2.1">4</text></g>
<g id="d100" transform="translate(47 884)"><rect x="-4.5" y="-5.5" width="9" height="11"/><text y="2.1">4</text></g>
<g id="d101" transform="translate(60 884)"><rect x="-4.5" y="-5.5" width="9" height="11"/><text y="2.1">4</text></g>
<g id="d102" transform="translate(71 884)"><rect x="-4.5" y="-5.5" width="9" height="11"/><text y="2.1">4</text></g>
<g id="d103" transform="translate(83 884)"><rect x="-4.5" y="-5.5" width="9" height="11"/><text y="2.1">4</text></g>
<g id="d104" transform="translate(94 884)"><rect x="-4.5" y="-5.5" width="9" height="11"/><text y="2.1">3</text></g>
<g id="d105" transform="translate(106 884)"><rect x="-4.5" y="-5.5" width="9" height="11"/><text y="2.1">5</text></g>
<g id="d106" transform="translate(117 884)"><rect x="-4.5" y="-5.5" width="9" height="11"/><text y="2.1">5</text></g>
<g id="d107" transform="translate(128 884)"><rect x="-4.5" y="-5.5" width="9" height="11"/><text y="2.1">4</text></g>
<g id="d108" transform="translate(140 884)"><rect x="-4.5" y="-5.5" width="9" height="11"/><text y="2.1">5</text></g>
<g id="d109" transform="translate(152 884)"><rect x="-4.5" y="-5.5" width="9" height="11"/><text y="2.1">5</text></g>
<g id="d110" transform="translate(163 884)"><rect x="-4.5" y="-5.5" width="9" height="11"/><text y="2.1">4</text></g>
<g id="d111" transform="translate(180 884)"><rect x="-4.5" y="-5.5" width="9" height="11"/><text y="2.1">4</text></g>
<g id="d112" transform="translate(197 884)"><rect x="-4.5" y="-5.5" width="9" height="11"/><text y="2.1">4</text></g>
<g id="d113" transform="translate(208 884)"><rect x="-4.5" y="-5.5" width="9" height="11"/><text y="2.1">4</text></g>
<g id="d114" transform="translate(230 884)"><rect x="-4.5" y="-5.5" width="9" height="11"/><text y="2.1">4</text></g>
<g id="d115" transform="translate(276 884)"><rect x="-4.5" y="-5.5" width="9" height="11"/><text y="2.1">4</text></g>
<g id="d116" transform="translate(300 884)"><rect x="-4.5" y="-5.5" width="9" height="11"/><text y="2.1">4</text></g>
<g id="d117" transform="translate(312 884)"><rect x="-4.5" y="-5.5" width="9" height="11"/><text y="2.1">4</text></g>
<g id="d118" transform="translate(343 884)"><rect x="-4.5" y="-5.5" width="9" height="11"/><text y="2.1">4</text></g>
<g id="d119" transform="translate(366 884)"><rect x="-4.5" y="-5.5" width="9" height="11"/><text y="2.1">4</text></g>
</g>
<g id="tree-3" class="n big">
<g id="e1" transform="translate(223 936)"><rect x="-12.5" y="-9.5" width="25" height="19"/><text y="3.5" font-size="10">172</text></g>
<g id="e2" transform="translate(13 975)"><rect x="-6" y="-8" width="12" height="16"/><text y="3">4</text></g>
<g id="e3" transform="translate(32 975)"><rect x="-6" y="-8" width="12" height="16"/><text y="3">4</text></g>
<g id="e4" transform="translate(51 975)"><rect x="-6" y="-8" width="12" height="16"/><text y="3">4</text></g>
<g id="e5" transform="translate(70 975)"><rect x="-6" y="-8" width="12" height="16"/><text y="3">4</text></g>
<g id="e6" transform="translate(89 975)"><rect x="-6" y="-8" width="12" height="16"/><text y="3">4</text></g>
<g id="e7" transform="translate(108 975)"><rect x="-6" y="-8" width="12" height="16"/><text y="3">4</text></g>
<g id="e8" transform="translate(127 975)"><rect x="-6" y="-8" width="12" height="16"/><text y="3">4</text></g>
<g id="e9" transform="translate(146 975)"><rect x="-6" y="-8" width="12" height="16"/><text y="3">4</text></g>
<g id="e10" transform="translate(165 975)"><rect x="-6" y="-8" width="12" height="16"/><text y="3">4</text></g>
<g id="e11" transform="translate(184 975)"><rect x="-6" y="-8" width="12" height="16"/><text y="3">4</text></g>
<g id="e12" transform="translate(203 975)"><rect x="-6" y="-8" width="12" height="16"/><text y="3">4</text></g>
<g id="e13" transform="translate(222 975)"><rect x="-6" y="-8" width="12" height="16"/><text y="3">4</text></g>
<g id="e14" transform="translate(241 975)"><rect x="-6" y="-8" width="12" height="16"/><text y="3">4</text></g>
<g id="e15" transform="translate(260 975)"><rect x="-6" y="-8" width="12" height="16"/><text y="3">4</text></g>
<g id="e16" transform="translate(279 975)"><rect x="-6" y="-8" width="12" height="16"/><text y="3">2</text></g>
<g id="e17" transform="translate(298 975)"><rect x="-6" y="-8" width="12" height="16"/><text y="3">4</text></g>
<g id="e18" transform="translate(317 975)"><rect x="-6" y="-8" width="12" height="16"/><text y="3">4</text></g>
<g id="e19" transform="translate(336 975)"><rect x="-6" y="-8" width="12" height="16"/><text y="3">2</text></g>
<g id="e20" transform="translate(355 975)"><rect x="-6" y="-8" width="12" height="16"/><text y="3">4</text></g>
<g id="e21" transform="translate(374 975)"><rect x="-6" y="-8" width="12" height="16"/><text y="3">4</text></g>
<g id="e22" transform="translate(393 975)"><rect x="-6" y="-8" width="12" height="16"/><text y="3">2</text></g>
<g id="e23" transform="translate(412 975)"><rect x="-6" y="-8" width="12" height="16"/><text y="3">4</text></g>
<g id="e24" transform="translate(431 975)"><rect x="-6" y="-8" width="12" height="16"/><text y="3">3</text></g>
<g id="e25" transform="translate(431 1011)"><rect x="-6" y="-8" width="12" height="16"/><text y="3">3</text></g>
</g>
</svg>
